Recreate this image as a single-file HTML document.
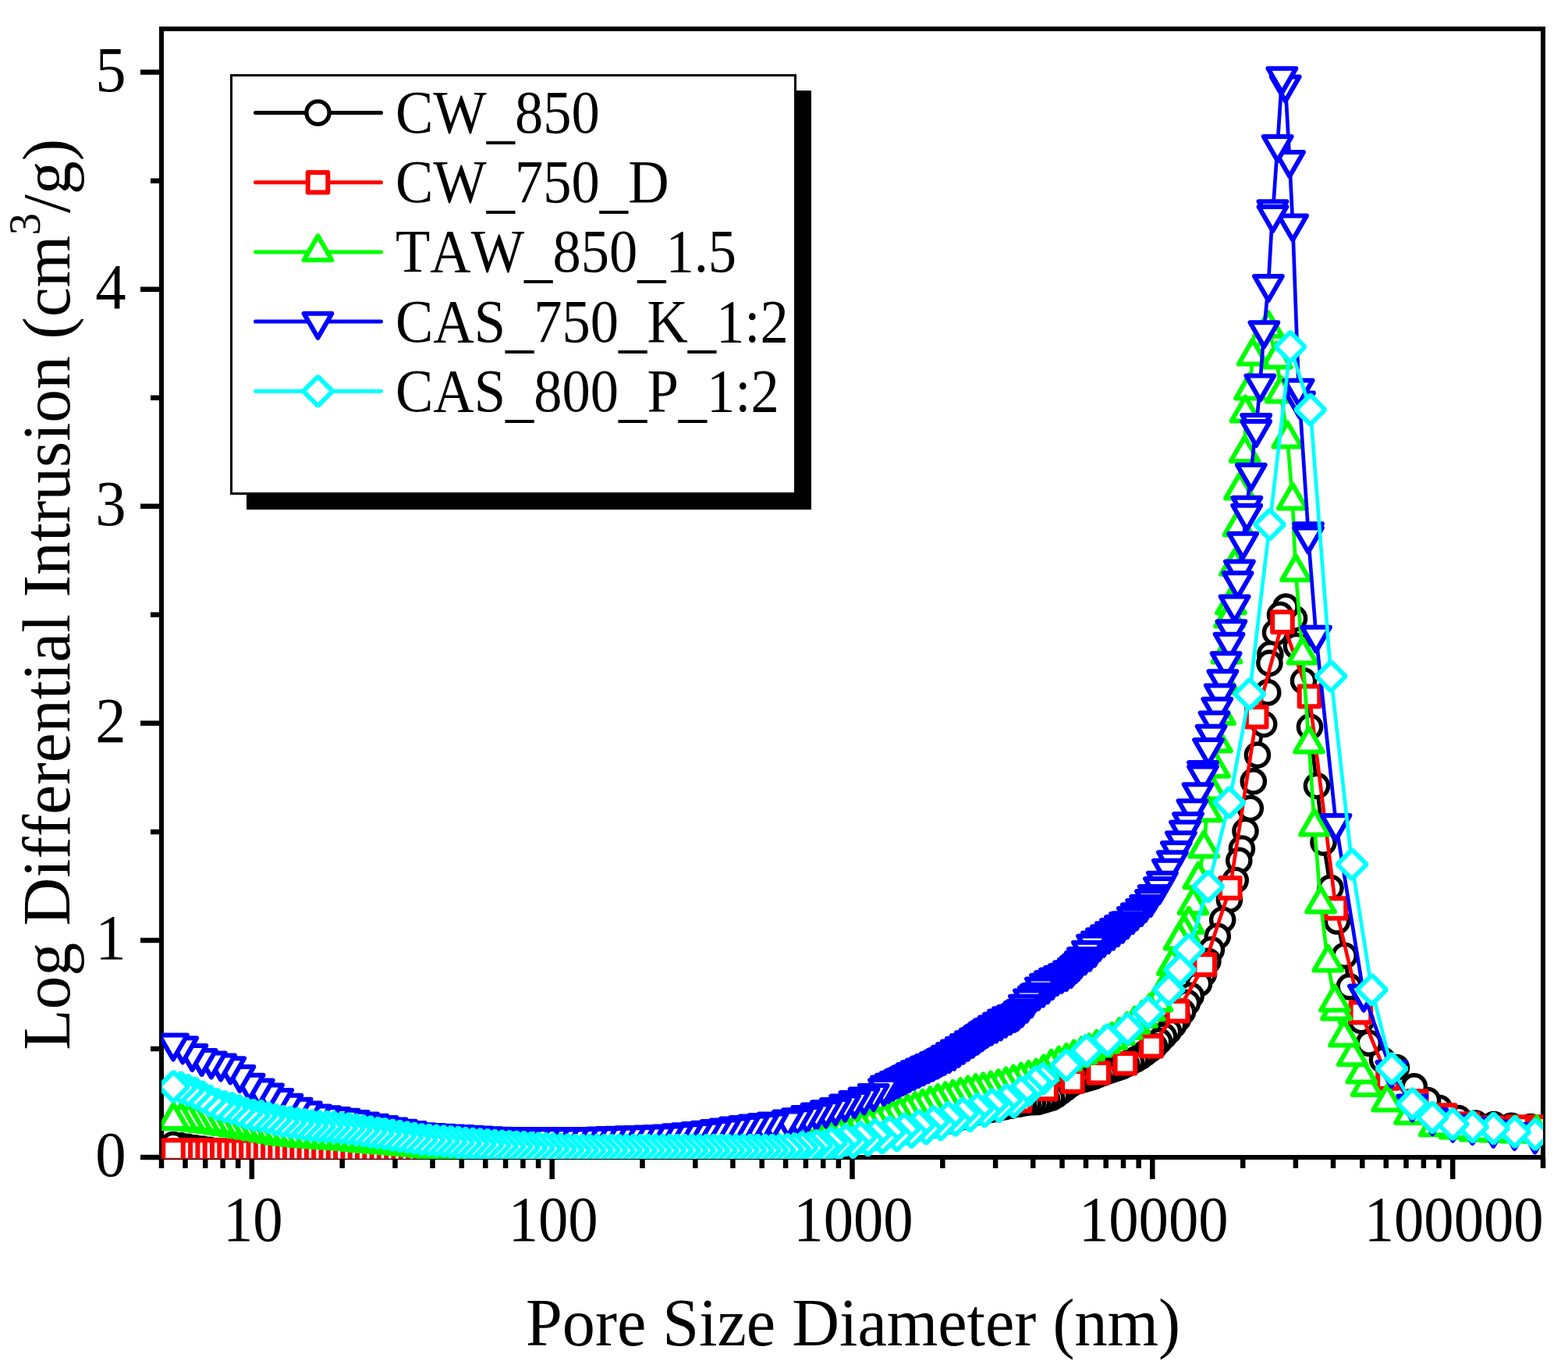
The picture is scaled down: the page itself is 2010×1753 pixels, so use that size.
<!DOCTYPE html><html><head><meta charset="utf-8"><title>Log Differential Intrusion vs Pore Size Diameter</title>
<style>html,body{margin:0;padding:0;background:#fff;}svg{display:block;}text{font-family:"Liberation Serif","Times New Roman",serif;fill:#000;font-kerning:none;}</style></head><body>
<svg xmlns="http://www.w3.org/2000/svg" width="2010" height="1753" viewBox="0 0 2010 1753">
<rect width="2010" height="1753" fill="#fff"/>
<defs><clipPath id="pc"><rect x="207" y="37" width="1771" height="1448"/></clipPath></defs>
<path d="M180 1483H207M180 1204.9H207M180 926.8H207M180 648.8H207M180 370.7H207M180 92.6H207M193 1344H207M193 1065.9H207M193 787.8H207M193 509.7H207M193 231.7H207M207 1483V1497M237.5 1483V1497M263.2 1483V1497M285.6 1483V1497M305.2 1483V1497M322.8 1483V1511M438.7 1483V1497M506.5 1483V1497M554.5 1483V1497M591.8 1483V1497M622.3 1483V1497M648.1 1483V1497M670.4 1483V1497M690.1 1483V1497M707.7 1483V1511M823.5 1483V1497M891.3 1483V1497M939.4 1483V1497M976.7 1483V1497M1007.1 1483V1497M1032.9 1483V1497M1055.2 1483V1497M1074.9 1483V1497M1092.5 1483V1511M1208.3 1483V1497M1276.1 1483V1497M1324.2 1483V1497M1361.5 1483V1497M1392 1483V1497M1417.7 1483V1497M1440 1483V1497M1459.7 1483V1497M1477.3 1483V1511M1593.2 1483V1497M1660.9 1483V1497M1709 1483V1497M1746.3 1483V1497M1776.8 1483V1497M1802.5 1483V1497M1824.9 1483V1497M1844.5 1483V1497M1862.2 1483V1511M1978 1483V1497" stroke="#000" stroke-width="6.5" fill="none"/>
<rect x="207" y="37" width="1771" height="1446" fill="none" stroke="#000" stroke-width="6"/>
<g clip-path="url(#pc)">
<path d="M222 1467 231.3 1468.4 240.6 1469.8 249.9 1471.2 259.2 1472.6 268.5 1473.8 277.8 1475 287.1 1476.3 296.4 1477.5 305.7 1478.5 315 1479.2 324.3 1479.9 333.6 1480.7 342.9 1481.4 352.2 1482.2 361.5 1482.9 370.8 1483.7 380.1 1484.4 389.4 1485.2 398.7 1485.9 408 1486.2 417.3 1486.5 426.6 1486.8 435.9 1487.1 445.2 1487.4 454.5 1487.6 463.8 1487.9 473.1 1488.2 482.4 1488.5 491.7 1488.8 501 1489 510.3 1489.3 519.6 1489.6 528.9 1489.9 538.2 1490.1 547.5 1490.4 556.8 1490.7 566.1 1491 575.4 1491.3 584.7 1491.5 594 1491.8 603.3 1492 612.6 1492 621.9 1492 631.2 1492 640.5 1492 649.8 1492 659.1 1492 668.4 1492 677.7 1492 687 1492 696.3 1492 705.6 1492 714.9 1492 724.2 1492 733.5 1492 742.8 1492 752.1 1492 761.4 1492 770.7 1492 780 1492 789.3 1492 798.6 1492 807.9 1492 817.2 1492 826.5 1492 835.8 1492 845.1 1492 854.4 1492 863.7 1492 873 1492 882.3 1492 891.6 1492 900.9 1492 910.2 1492 919.5 1492 928.8 1492 938.1 1492 947.4 1492 956.7 1489.9 966 1486.9 975.3 1483.9 984.6 1480.9 993.9 1478 1008 1474.8 1016 1473.6 1024 1472.4 1032 1471.2 1040 1470 1048 1468.8 1056 1467.6 1064 1466.4 1072 1465.2 1080 1464 1088 1462.8 1096 1461.6 1104 1460.2 1112 1458.6 1120 1457 1128 1455.4 1136 1453.8 1144 1452.2 1152 1450.6 1160 1449 1168 1447.4 1176 1445.8 1184 1444.2 1192 1442.6 1200 1441 1208 1438.6 1216 1436.2 1224 1433.8 1232 1431.4 1240 1429 1248 1426.6 1256 1424.8 1264 1423.2 1272 1421.6 1280 1420 1288 1418.3 1296 1416.7 1306 1414.7 1312 1413.5 1318 1412.6 1324 1412.3 1330 1412 1336 1410.2 1342 1408.5 1348 1406.7 1354 1403.3 1360 1398.8 1366 1394.2 1372 1389.7 1378 1386.3 1384 1384.6 1390 1383 1396 1381.3 1402 1379.4 1408 1377.1 1414 1374.8 1420 1372.5 1426 1370.5 1432 1368.4 1438 1366.4 1444 1363.6 1450 1360.6 1456 1357.5 1462 1353.9 1468 1349.5 1474 1345.1 1480 1340.7 1486 1334.3 1492 1327.9 1498 1321.5 1504 1313.9 1510 1305.7 1516 1296.5 1522 1285 1526.7 1276 1537 1260.4 1543 1248 1548.4 1231.8 1552.9 1217 1560.8 1199.8 1567.2 1178.7 1575.9 1152.9 1583.7 1128 1588.3 1102.8 1591.9 1087.5 1596.5 1064.9 1602.8 1035.8 1606.8 1001.3 1611.9 967.6 1620.2 928 1625.2 887.4 1627.4 849.8 1628.3 838.5 1635 810.6 1641 788 1648.4 777.6 1659 792.6 1662 828 1671 872.5 1679 931.5 1688 1007 1696.5 1079.6 1705.5 1137.8 1714 1180.4 1723.6 1224.7 1729.8 1264.4 1745 1308 1754.8 1336.7 1772 1358 1790 1368 1812.8 1392.3 1830 1410 1845 1420 1869.5 1433 1891.3 1439.5 1915 1441 1937.3 1442.8 1962 1444 1985 1445" fill="none" stroke="#000000" stroke-width="4.7" stroke-linejoin="round"/>
<g fill="#fff" stroke="#000000" stroke-width="5.4">
<circle cx="1985" cy="1445" r="14.6"/><circle cx="1962" cy="1444" r="14.6"/><circle cx="1937.3" cy="1442.8" r="14.6"/><circle cx="1915" cy="1441" r="14.6"/><circle cx="1891.3" cy="1439.5" r="14.6"/><circle cx="1869.5" cy="1433" r="14.6"/><circle cx="1845" cy="1420" r="14.6"/><circle cx="1830" cy="1410" r="14.6"/><circle cx="1812.8" cy="1392.3" r="14.6"/><circle cx="1790" cy="1368" r="14.6"/><circle cx="1772" cy="1358" r="14.6"/><circle cx="1754.8" cy="1336.7" r="14.6"/><circle cx="1745" cy="1308" r="14.6"/><circle cx="1729.8" cy="1264.4" r="14.6"/><circle cx="1723.6" cy="1224.7" r="14.6"/><circle cx="1714" cy="1180.4" r="14.6"/><circle cx="1705.5" cy="1137.8" r="14.6"/><circle cx="1696.5" cy="1079.6" r="14.6"/><circle cx="1688" cy="1007" r="14.6"/><circle cx="1679" cy="931.5" r="14.6"/><circle cx="1671" cy="872.5" r="14.6"/><circle cx="1662" cy="828" r="14.6"/><circle cx="1659" cy="792.6" r="14.6"/><circle cx="1648.4" cy="777.6" r="14.6"/><circle cx="1641" cy="788" r="14.6"/><circle cx="1635" cy="810.6" r="14.6"/><circle cx="1628.3" cy="838.5" r="14.6"/><circle cx="1627.4" cy="849.8" r="14.6"/><circle cx="1625.2" cy="887.4" r="14.6"/><circle cx="1620.2" cy="928" r="14.6"/><circle cx="1611.9" cy="967.6" r="14.6"/><circle cx="1606.8" cy="1001.3" r="14.6"/><circle cx="1602.8" cy="1035.8" r="14.6"/><circle cx="1596.5" cy="1064.9" r="14.6"/><circle cx="1591.9" cy="1087.5" r="14.6"/><circle cx="1588.3" cy="1102.8" r="14.6"/><circle cx="1583.7" cy="1128" r="14.6"/><circle cx="1575.9" cy="1152.9" r="14.6"/><circle cx="1567.2" cy="1178.7" r="14.6"/><circle cx="1560.8" cy="1199.8" r="14.6"/><circle cx="1552.9" cy="1217" r="14.6"/><circle cx="1548.4" cy="1231.8" r="14.6"/><circle cx="1543" cy="1248" r="14.6"/><circle cx="1537" cy="1260.4" r="14.6"/><circle cx="1526.7" cy="1276" r="14.6"/><circle cx="1522" cy="1285" r="14.6"/><circle cx="1516" cy="1296.5" r="14.6"/><circle cx="1510" cy="1305.7" r="14.6"/><circle cx="1504" cy="1313.9" r="14.6"/><circle cx="1498" cy="1321.5" r="14.6"/><circle cx="1492" cy="1327.9" r="14.6"/><circle cx="1486" cy="1334.3" r="14.6"/><circle cx="1480" cy="1340.7" r="14.6"/><circle cx="1474" cy="1345.1" r="14.6"/><circle cx="1468" cy="1349.5" r="14.6"/><circle cx="1462" cy="1353.9" r="14.6"/><circle cx="1456" cy="1357.5" r="14.6"/><circle cx="1450" cy="1360.6" r="14.6"/><circle cx="1444" cy="1363.6" r="14.6"/><circle cx="1438" cy="1366.4" r="14.6"/><circle cx="1432" cy="1368.4" r="14.6"/><circle cx="1426" cy="1370.5" r="14.6"/><circle cx="1420" cy="1372.5" r="14.6"/><circle cx="1414" cy="1374.8" r="14.6"/><circle cx="1408" cy="1377.1" r="14.6"/><circle cx="1402" cy="1379.4" r="14.6"/><circle cx="1396" cy="1381.3" r="14.6"/><circle cx="1390" cy="1383" r="14.6"/><circle cx="1384" cy="1384.6" r="14.6"/><circle cx="1378" cy="1386.3" r="14.6"/><circle cx="1372" cy="1389.7" r="14.6"/><circle cx="1366" cy="1394.2" r="14.6"/><circle cx="1360" cy="1398.8" r="14.6"/><circle cx="1354" cy="1403.3" r="14.6"/><circle cx="1348" cy="1406.7" r="14.6"/><circle cx="1342" cy="1408.5" r="14.6"/><circle cx="1336" cy="1410.2" r="14.6"/><circle cx="1330" cy="1412" r="14.6"/><circle cx="1324" cy="1412.3" r="14.6"/><circle cx="1318" cy="1412.6" r="14.6"/><circle cx="1312" cy="1413.5" r="14.6"/><circle cx="1306" cy="1414.7" r="14.6"/><circle cx="1296" cy="1416.7" r="14.6"/><circle cx="1288" cy="1418.3" r="14.6"/><circle cx="1280" cy="1420" r="14.6"/><circle cx="1272" cy="1421.6" r="14.6"/><circle cx="1264" cy="1423.2" r="14.6"/><circle cx="1256" cy="1424.8" r="14.6"/><circle cx="1248" cy="1426.6" r="14.6"/><circle cx="1240" cy="1429" r="14.6"/><circle cx="1232" cy="1431.4" r="14.6"/><circle cx="1224" cy="1433.8" r="14.6"/><circle cx="1216" cy="1436.2" r="14.6"/><circle cx="1208" cy="1438.6" r="14.6"/><circle cx="1200" cy="1441" r="14.6"/><circle cx="1192" cy="1442.6" r="14.6"/><circle cx="1184" cy="1444.2" r="14.6"/><circle cx="1176" cy="1445.8" r="14.6"/><circle cx="1168" cy="1447.4" r="14.6"/><circle cx="1160" cy="1449" r="14.6"/><circle cx="1152" cy="1450.6" r="14.6"/><circle cx="1144" cy="1452.2" r="14.6"/><circle cx="1136" cy="1453.8" r="14.6"/><circle cx="1128" cy="1455.4" r="14.6"/><circle cx="1120" cy="1457" r="14.6"/><circle cx="1112" cy="1458.6" r="14.6"/><circle cx="1104" cy="1460.2" r="14.6"/><circle cx="1096" cy="1461.6" r="14.6"/><circle cx="1088" cy="1462.8" r="14.6"/><circle cx="1080" cy="1464" r="14.6"/><circle cx="1072" cy="1465.2" r="14.6"/><circle cx="1064" cy="1466.4" r="14.6"/><circle cx="1056" cy="1467.6" r="14.6"/><circle cx="1048" cy="1468.8" r="14.6"/><circle cx="1040" cy="1470" r="14.6"/><circle cx="1032" cy="1471.2" r="14.6"/><circle cx="1024" cy="1472.4" r="14.6"/><circle cx="1016" cy="1473.6" r="14.6"/><circle cx="1008" cy="1474.8" r="14.6"/><circle cx="993.9" cy="1478" r="14.6"/><circle cx="984.6" cy="1480.9" r="14.6"/><circle cx="975.3" cy="1483.9" r="14.6"/><circle cx="966" cy="1486.9" r="14.6"/><circle cx="956.7" cy="1489.9" r="14.6"/><circle cx="947.4" cy="1492" r="14.6"/><circle cx="938.1" cy="1492" r="14.6"/><circle cx="928.8" cy="1492" r="14.6"/><circle cx="919.5" cy="1492" r="14.6"/><circle cx="910.2" cy="1492" r="14.6"/><circle cx="900.9" cy="1492" r="14.6"/><circle cx="891.6" cy="1492" r="14.6"/><circle cx="882.3" cy="1492" r="14.6"/><circle cx="873" cy="1492" r="14.6"/><circle cx="863.7" cy="1492" r="14.6"/><circle cx="854.4" cy="1492" r="14.6"/><circle cx="845.1" cy="1492" r="14.6"/><circle cx="835.8" cy="1492" r="14.6"/><circle cx="826.5" cy="1492" r="14.6"/><circle cx="817.2" cy="1492" r="14.6"/><circle cx="807.9" cy="1492" r="14.6"/><circle cx="798.6" cy="1492" r="14.6"/><circle cx="789.3" cy="1492" r="14.6"/><circle cx="780" cy="1492" r="14.6"/><circle cx="770.7" cy="1492" r="14.6"/><circle cx="761.4" cy="1492" r="14.6"/><circle cx="752.1" cy="1492" r="14.6"/><circle cx="742.8" cy="1492" r="14.6"/><circle cx="733.5" cy="1492" r="14.6"/><circle cx="724.2" cy="1492" r="14.6"/><circle cx="714.9" cy="1492" r="14.6"/><circle cx="705.6" cy="1492" r="14.6"/><circle cx="696.3" cy="1492" r="14.6"/><circle cx="687" cy="1492" r="14.6"/><circle cx="677.7" cy="1492" r="14.6"/><circle cx="668.4" cy="1492" r="14.6"/><circle cx="659.1" cy="1492" r="14.6"/><circle cx="649.8" cy="1492" r="14.6"/><circle cx="640.5" cy="1492" r="14.6"/><circle cx="631.2" cy="1492" r="14.6"/><circle cx="621.9" cy="1492" r="14.6"/><circle cx="612.6" cy="1492" r="14.6"/><circle cx="603.3" cy="1492" r="14.6"/><circle cx="594" cy="1491.8" r="14.6"/><circle cx="584.7" cy="1491.5" r="14.6"/><circle cx="575.4" cy="1491.3" r="14.6"/><circle cx="566.1" cy="1491" r="14.6"/><circle cx="556.8" cy="1490.7" r="14.6"/><circle cx="547.5" cy="1490.4" r="14.6"/><circle cx="538.2" cy="1490.1" r="14.6"/><circle cx="528.9" cy="1489.9" r="14.6"/><circle cx="519.6" cy="1489.6" r="14.6"/><circle cx="510.3" cy="1489.3" r="14.6"/><circle cx="501" cy="1489" r="14.6"/><circle cx="491.7" cy="1488.8" r="14.6"/><circle cx="482.4" cy="1488.5" r="14.6"/><circle cx="473.1" cy="1488.2" r="14.6"/><circle cx="463.8" cy="1487.9" r="14.6"/><circle cx="454.5" cy="1487.6" r="14.6"/><circle cx="445.2" cy="1487.4" r="14.6"/><circle cx="435.9" cy="1487.1" r="14.6"/><circle cx="426.6" cy="1486.8" r="14.6"/><circle cx="417.3" cy="1486.5" r="14.6"/><circle cx="408" cy="1486.2" r="14.6"/><circle cx="398.7" cy="1485.9" r="14.6"/><circle cx="389.4" cy="1485.2" r="14.6"/><circle cx="380.1" cy="1484.4" r="14.6"/><circle cx="370.8" cy="1483.7" r="14.6"/><circle cx="361.5" cy="1482.9" r="14.6"/><circle cx="352.2" cy="1482.2" r="14.6"/><circle cx="342.9" cy="1481.4" r="14.6"/><circle cx="333.6" cy="1480.7" r="14.6"/><circle cx="324.3" cy="1479.9" r="14.6"/><circle cx="315" cy="1479.2" r="14.6"/><circle cx="305.7" cy="1478.5" r="14.6"/><circle cx="296.4" cy="1477.5" r="14.6"/><circle cx="287.1" cy="1476.3" r="14.6"/><circle cx="277.8" cy="1475" r="14.6"/><circle cx="268.5" cy="1473.8" r="14.6"/><circle cx="259.2" cy="1472.6" r="14.6"/><circle cx="249.9" cy="1471.2" r="14.6"/><circle cx="240.6" cy="1469.8" r="14.6"/><circle cx="231.3" cy="1468.4" r="14.6"/><circle cx="222" cy="1467" r="14.6"/>
</g>
<path d="M222 1474 231.3 1474 240.6 1474.1 249.9 1474.1 259.2 1474.1 268.5 1474.1 277.8 1474.2 287.1 1474.2 296.4 1474.2 305.7 1474.3 315 1474.3 324.3 1474.3 333.6 1474.4 342.9 1474.4 352.2 1474.4 361.5 1474.4 370.8 1474.5 380.1 1474.5 389.4 1474.5 398.7 1474.6 408 1474.6 417.3 1474.6 426.6 1474.6 435.9 1474.7 445.2 1474.7 454.5 1474.7 463.8 1474.8 473.1 1474.8 482.4 1474.8 491.7 1474.8 501 1474.9 510.3 1474.9 519.6 1474.9 528.9 1475 538.2 1475 547.5 1475.1 556.8 1475.3 566.1 1475.5 575.4 1475.7 584.7 1475.8 594 1476 603.3 1476.2 612.6 1476.4 621.9 1476.5 631.2 1476.7 640.5 1476.9 649.8 1477.1 659.1 1477.2 668.4 1477.4 677.7 1477.6 687 1477.8 696.3 1477.9 705.6 1478 714.9 1478 724.2 1478 733.5 1478 742.8 1478 752.1 1478 761.4 1478 770.7 1478 780 1478 789.3 1478 798.6 1478 807.9 1478 817.2 1478 826.5 1478 835.8 1478 845.1 1478 854.4 1478 863.7 1478 873 1478 882.3 1478 891.6 1478 900.9 1478 910.2 1478 919.5 1478 928.8 1478 938.1 1478 947.4 1478 956.7 1477.5 966 1476.7 975.3 1476 984.6 1475.2 993.9 1474.5 1005.5 1473.1 1039.2 1467.7 1072.9 1462.3 1106.6 1456.6 1140.3 1449.5 1174 1442.5 1207.7 1434.9 1241.4 1425.7 1275.1 1417.8 1307.5 1410.8 1341.1 1395.4 1374.9 1385.9 1408.2 1374.8 1442.4 1362.8 1476 1340.6 1509.6 1295.7 1544.2 1236.1 1576.8 1137.9 1610.7 918.8 1644 797.1 1678.5 892.4 1712.4 1164 1744.4 1297.4 1779 1382 1815.8 1411 1852.5 1429 1882 1440 1913 1445 1945 1444 1975 1444" fill="none" stroke="#ff0000" stroke-width="4.7" stroke-linejoin="round"/>
<g fill="#fff" stroke="#ff0000" stroke-width="6" stroke-linejoin="round">
<rect x="1962.2" y="1431.2" width="25.6" height="25.6"/><rect x="1932.2" y="1431.2" width="25.6" height="25.6"/><rect x="1900.2" y="1432.2" width="25.6" height="25.6"/><rect x="1869.2" y="1427.2" width="25.6" height="25.6"/><rect x="1839.7" y="1416.2" width="25.6" height="25.6"/><rect x="1803" y="1398.2" width="25.6" height="25.6"/><rect x="1766.2" y="1369.2" width="25.6" height="25.6"/><rect x="1731.6" y="1284.6" width="25.6" height="25.6"/><rect x="1699.6" y="1151.2" width="25.6" height="25.6"/><rect x="1665.7" y="879.6" width="25.6" height="25.6"/><rect x="1631.2" y="784.3" width="25.6" height="25.6"/><rect x="1597.9" y="906" width="25.6" height="25.6"/><rect x="1564" y="1125.1" width="25.6" height="25.6"/><rect x="1531.4" y="1223.3" width="25.6" height="25.6"/><rect x="1496.8" y="1282.9" width="25.6" height="25.6"/><rect x="1463.2" y="1327.8" width="25.6" height="25.6"/><rect x="1429.6" y="1350" width="25.6" height="25.6"/><rect x="1395.4" y="1362" width="25.6" height="25.6"/><rect x="1362.1" y="1373.1" width="25.6" height="25.6"/><rect x="1328.3" y="1382.6" width="25.6" height="25.6"/><rect x="1294.7" y="1398" width="25.6" height="25.6"/><rect x="1262.3" y="1405" width="25.6" height="25.6"/><rect x="1228.6" y="1412.9" width="25.6" height="25.6"/><rect x="1194.9" y="1422.1" width="25.6" height="25.6"/><rect x="1161.2" y="1429.7" width="25.6" height="25.6"/><rect x="1127.5" y="1436.7" width="25.6" height="25.6"/><rect x="1093.8" y="1443.8" width="25.6" height="25.6"/><rect x="1060.1" y="1449.5" width="25.6" height="25.6"/><rect x="1026.4" y="1454.9" width="25.6" height="25.6"/><rect x="992.7" y="1460.3" width="25.6" height="25.6"/><rect x="981.1" y="1461.7" width="25.6" height="25.6"/><rect x="971.8" y="1462.4" width="25.6" height="25.6"/><rect x="962.5" y="1463.2" width="25.6" height="25.6"/><rect x="953.2" y="1463.9" width="25.6" height="25.6"/><rect x="943.9" y="1464.7" width="25.6" height="25.6"/><rect x="934.6" y="1465.2" width="25.6" height="25.6"/><rect x="925.3" y="1465.2" width="25.6" height="25.6"/><rect x="916" y="1465.2" width="25.6" height="25.6"/><rect x="906.7" y="1465.2" width="25.6" height="25.6"/><rect x="897.4" y="1465.2" width="25.6" height="25.6"/><rect x="888.1" y="1465.2" width="25.6" height="25.6"/><rect x="878.8" y="1465.2" width="25.6" height="25.6"/><rect x="869.5" y="1465.2" width="25.6" height="25.6"/><rect x="860.2" y="1465.2" width="25.6" height="25.6"/><rect x="850.9" y="1465.2" width="25.6" height="25.6"/><rect x="841.6" y="1465.2" width="25.6" height="25.6"/><rect x="832.3" y="1465.2" width="25.6" height="25.6"/><rect x="823" y="1465.2" width="25.6" height="25.6"/><rect x="813.7" y="1465.2" width="25.6" height="25.6"/><rect x="804.4" y="1465.2" width="25.6" height="25.6"/><rect x="795.1" y="1465.2" width="25.6" height="25.6"/><rect x="785.8" y="1465.2" width="25.6" height="25.6"/><rect x="776.5" y="1465.2" width="25.6" height="25.6"/><rect x="767.2" y="1465.2" width="25.6" height="25.6"/><rect x="757.9" y="1465.2" width="25.6" height="25.6"/><rect x="748.6" y="1465.2" width="25.6" height="25.6"/><rect x="739.3" y="1465.2" width="25.6" height="25.6"/><rect x="730" y="1465.2" width="25.6" height="25.6"/><rect x="720.7" y="1465.2" width="25.6" height="25.6"/><rect x="711.4" y="1465.2" width="25.6" height="25.6"/><rect x="702.1" y="1465.2" width="25.6" height="25.6"/><rect x="692.8" y="1465.2" width="25.6" height="25.6"/><rect x="683.5" y="1465.1" width="25.6" height="25.6"/><rect x="674.2" y="1465" width="25.6" height="25.6"/><rect x="664.9" y="1464.8" width="25.6" height="25.6"/><rect x="655.6" y="1464.6" width="25.6" height="25.6"/><rect x="646.3" y="1464.4" width="25.6" height="25.6"/><rect x="637" y="1464.3" width="25.6" height="25.6"/><rect x="627.7" y="1464.1" width="25.6" height="25.6"/><rect x="618.4" y="1463.9" width="25.6" height="25.6"/><rect x="609.1" y="1463.7" width="25.6" height="25.6"/><rect x="599.8" y="1463.6" width="25.6" height="25.6"/><rect x="590.5" y="1463.4" width="25.6" height="25.6"/><rect x="581.2" y="1463.2" width="25.6" height="25.6"/><rect x="571.9" y="1463" width="25.6" height="25.6"/><rect x="562.6" y="1462.9" width="25.6" height="25.6"/><rect x="553.3" y="1462.7" width="25.6" height="25.6"/><rect x="544" y="1462.5" width="25.6" height="25.6"/><rect x="534.7" y="1462.3" width="25.6" height="25.6"/><rect x="525.4" y="1462.2" width="25.6" height="25.6"/><rect x="516.1" y="1462.2" width="25.6" height="25.6"/><rect x="506.8" y="1462.1" width="25.6" height="25.6"/><rect x="497.5" y="1462.1" width="25.6" height="25.6"/><rect x="488.2" y="1462.1" width="25.6" height="25.6"/><rect x="478.9" y="1462" width="25.6" height="25.6"/><rect x="469.6" y="1462" width="25.6" height="25.6"/><rect x="460.3" y="1462" width="25.6" height="25.6"/><rect x="451" y="1462" width="25.6" height="25.6"/><rect x="441.7" y="1461.9" width="25.6" height="25.6"/><rect x="432.4" y="1461.9" width="25.6" height="25.6"/><rect x="423.1" y="1461.9" width="25.6" height="25.6"/><rect x="413.8" y="1461.8" width="25.6" height="25.6"/><rect x="404.5" y="1461.8" width="25.6" height="25.6"/><rect x="395.2" y="1461.8" width="25.6" height="25.6"/><rect x="385.9" y="1461.8" width="25.6" height="25.6"/><rect x="376.6" y="1461.7" width="25.6" height="25.6"/><rect x="367.3" y="1461.7" width="25.6" height="25.6"/><rect x="358" y="1461.7" width="25.6" height="25.6"/><rect x="348.7" y="1461.6" width="25.6" height="25.6"/><rect x="339.4" y="1461.6" width="25.6" height="25.6"/><rect x="330.1" y="1461.6" width="25.6" height="25.6"/><rect x="320.8" y="1461.6" width="25.6" height="25.6"/><rect x="311.5" y="1461.5" width="25.6" height="25.6"/><rect x="302.2" y="1461.5" width="25.6" height="25.6"/><rect x="292.9" y="1461.5" width="25.6" height="25.6"/><rect x="283.6" y="1461.4" width="25.6" height="25.6"/><rect x="274.3" y="1461.4" width="25.6" height="25.6"/><rect x="265" y="1461.4" width="25.6" height="25.6"/><rect x="255.7" y="1461.3" width="25.6" height="25.6"/><rect x="246.4" y="1461.3" width="25.6" height="25.6"/><rect x="237.1" y="1461.3" width="25.6" height="25.6"/><rect x="227.8" y="1461.3" width="25.6" height="25.6"/><rect x="218.5" y="1461.2" width="25.6" height="25.6"/><rect x="209.2" y="1461.2" width="25.6" height="25.6"/>
</g>
<path d="M222.4 1435.7 232.1 1436 241.8 1436.2 251.5 1437.4 261.2 1438.6 270.9 1439.8 280.6 1441.3 290.3 1442.7 300 1444.2 309.7 1445.7 319.4 1447.1 329.1 1448.9 338.8 1450.7 348.5 1452.5 358.2 1454.4 367.9 1455.5 377.6 1456.4 387.3 1457.4 397 1458.3 406.7 1459 416.4 1459.7 426.1 1460.3 435.8 1460.9 445.5 1461.7 455.2 1462.7 464.9 1463.7 474.6 1464.6 484.3 1465.4 494 1466.2 503.7 1467 513.4 1467.8 523.1 1468.6 532.8 1469.5 542.5 1470.4 552.2 1471.4 561.9 1472.3 571.6 1472.9 581.3 1473.5 591 1474.1 600.7 1474.7 610.4 1475.4 620.1 1476 629.8 1476.6 639.5 1477.2 649.2 1477.7 658.9 1478.1 668.6 1478.6 678.3 1479.1 688 1479.6 697.7 1480.1 707.4 1480.6 717.1 1481.1 726.8 1481.5 736.5 1482 746.2 1482.2 755.9 1482.3 765.6 1482.4 775.3 1482.4 785 1482.5 794.7 1482.5 804.4 1482.6 814.1 1482.7 823.8 1482.7 833.5 1482.8 843.2 1482.8 852.9 1482.9 862.6 1483 872.3 1483 882 1483.1 891.7 1483.1 901.4 1483.1 911.1 1482.3 920.8 1481.5 930.5 1480.8 940.2 1480 949.9 1479.2 959.6 1478.4 969.3 1477.7 979 1476.9 988.7 1476.1 998.4 1475.3 1008.1 1474 1017.8 1472.5 1027.5 1471 1037.2 1468.3 1046.9 1464.1 1056.6 1460.9 1066.3 1458.1 1076 1455.4 1085.7 1452.7 1095.4 1450 1105.1 1446.8 1114.8 1443.1 1124.5 1439.4 1134.2 1435.7 1143.9 1432 1153.6 1428.4 1163.3 1425 1173 1421.6 1182.7 1418.3 1192.4 1414.9 1202.1 1411.6 1211.8 1409 1221.5 1406.4 1231.2 1403.8 1240.9 1401.2 1250.6 1398.6 1260.3 1397 1270 1395.3 1279.7 1393 1289.4 1390.1 1299.1 1387.3 1308.8 1384.4 1318.5 1381.6 1328.2 1379.3 1337.9 1374 1347.6 1367.4 1357.3 1363.4 1367 1359.7 1376.7 1355.2 1386.4 1351.1 1396.1 1346.9 1405.8 1342.3 1415.5 1337.4 1425.2 1332.6 1434.9 1326.6 1444.6 1319.5 1454.3 1312.4 1464 1304.6 1473.7 1295.9 1483.4 1284.1 1493.1 1266.6 1502.8 1237.5 1511.6 1205.2 1518 1195.2 1524 1184.5 1529.5 1159.9 1536.3 1127 1543.2 1087.2 1547.1 1041 1552 1013.2 1557.1 984.4 1559.9 952 1564 916.8 1568.9 877.2 1572.5 838.2 1576 792.2 1578 775.2 1582.9 725.7 1587.4 675.2 1589 628.2 1595.6 580.7 1596.5 529.2 1602 500.2 1605.7 456.2 1625.8 420.8 1636.7 460.2 1642 504.2 1650.4 562.2 1656.8 641.2 1661 732.9 1669.7 839.2 1678 953.2 1685 1059.2 1693 1158.2 1702.3 1233.2 1711 1284.2 1713 1295.2 1723 1329.2 1733.7 1354 1745.3 1376.2 1751.7 1392.7 1778.3 1412.2 1807 1428.7 1838.8 1444 1865 1447.2 1891 1450.2 1916.5 1451.2 1943 1452.2 1970 1452.2" fill="none" stroke="#00ff00" stroke-width="4.7" stroke-linejoin="round"/>
<g fill="#fff" stroke="#00ff00" stroke-width="6" stroke-linejoin="round">
<path d="M1970 1431.5L1987.9 1462.5L1952.1 1462.5Z"/><path d="M1943 1431.5L1960.9 1462.5L1925.1 1462.5Z"/><path d="M1916.5 1430.5L1934.4 1461.5L1898.6 1461.5Z"/><path d="M1891 1429.5L1908.9 1460.5L1873.1 1460.5Z"/><path d="M1865 1426.5L1882.9 1457.5L1847.1 1457.5Z"/><path d="M1838.8 1423.3L1856.7 1454.3L1820.9 1454.3Z"/><path d="M1807 1408L1824.9 1439L1789.1 1439Z"/><path d="M1778.3 1391.5L1796.2 1422.5L1760.4 1422.5Z"/><path d="M1751.7 1372L1769.6 1403L1733.8 1403Z"/><path d="M1745.3 1355.5L1763.2 1386.5L1727.4 1386.5Z"/><path d="M1733.7 1333.3L1751.6 1364.3L1715.8 1364.3Z"/><path d="M1723 1308.5L1740.9 1339.5L1705.1 1339.5Z"/><path d="M1713 1274.5L1730.9 1305.5L1695.1 1305.5Z"/><path d="M1711 1263.5L1728.9 1294.5L1693.1 1294.5Z"/><path d="M1702.3 1212.5L1720.2 1243.5L1684.4 1243.5Z"/><path d="M1693 1137.5L1710.9 1168.5L1675.1 1168.5Z"/><path d="M1685 1038.5L1702.9 1069.5L1667.1 1069.5Z"/><path d="M1678 932.5L1695.9 963.5L1660.1 963.5Z"/><path d="M1669.7 818.5L1687.6 849.5L1651.8 849.5Z"/><path d="M1661 712.2L1678.9 743.2L1643.1 743.2Z"/><path d="M1656.8 620.5L1674.7 651.5L1638.9 651.5Z"/><path d="M1650.4 541.5L1668.3 572.5L1632.5 572.5Z"/><path d="M1642 483.5L1659.9 514.5L1624.1 514.5Z"/><path d="M1636.7 439.5L1654.6 470.5L1618.8 470.5Z"/><path d="M1625.8 400.1L1643.7 431.1L1607.9 431.1Z"/><path d="M1605.7 435.5L1623.6 466.5L1587.8 466.5Z"/><path d="M1602 479.5L1619.9 510.5L1584.1 510.5Z"/><path d="M1596.5 508.5L1614.4 539.5L1578.6 539.5Z"/><path d="M1595.6 560L1613.5 591L1577.7 591Z"/><path d="M1589 607.5L1606.9 638.5L1571.1 638.5Z"/><path d="M1587.4 654.5L1605.3 685.5L1569.5 685.5Z"/><path d="M1582.9 705L1600.8 736L1565 736Z"/><path d="M1578 754.5L1595.9 785.5L1560.1 785.5Z"/><path d="M1576 771.5L1593.9 802.5L1558.1 802.5Z"/><path d="M1572.5 817.5L1590.4 848.5L1554.6 848.5Z"/><path d="M1568.9 856.5L1586.8 887.5L1551 887.5Z"/><path d="M1564 896.1L1581.9 927.1L1546.1 927.1Z"/><path d="M1559.9 931.3L1577.8 962.3L1542 962.3Z"/><path d="M1557.1 963.7L1575 994.7L1539.2 994.7Z"/><path d="M1552 992.5L1569.9 1023.5L1534.1 1023.5Z"/><path d="M1547.1 1020.3L1565 1051.3L1529.2 1051.3Z"/><path d="M1543.2 1066.5L1561.1 1097.5L1525.3 1097.5Z"/><path d="M1536.3 1106.3L1554.2 1137.3L1518.4 1137.3Z"/><path d="M1529.5 1139.2L1547.4 1170.2L1511.6 1170.2Z"/><path d="M1524 1163.8L1541.9 1194.8L1506.1 1194.8Z"/><path d="M1518 1174.5L1535.9 1205.5L1500.1 1205.5Z"/><path d="M1511.6 1184.5L1529.5 1215.5L1493.7 1215.5Z"/><path d="M1502.8 1216.8L1520.7 1247.8L1484.9 1247.8Z"/><path d="M1493.1 1245.9L1511 1276.9L1475.2 1276.9Z"/><path d="M1483.4 1263.4L1501.3 1294.4L1465.5 1294.4Z"/><path d="M1473.7 1275.2L1491.6 1306.2L1455.8 1306.2Z"/><path d="M1464 1283.9L1481.9 1314.9L1446.1 1314.9Z"/><path d="M1454.3 1291.7L1472.2 1322.7L1436.4 1322.7Z"/><path d="M1444.6 1298.8L1462.5 1329.8L1426.7 1329.8Z"/><path d="M1434.9 1305.9L1452.8 1336.9L1417 1336.9Z"/><path d="M1425.2 1311.9L1443.1 1342.9L1407.3 1342.9Z"/><path d="M1415.5 1316.7L1433.4 1347.7L1397.6 1347.7Z"/><path d="M1405.8 1321.6L1423.7 1352.6L1387.9 1352.6Z"/><path d="M1396.1 1326.2L1414 1357.2L1378.2 1357.2Z"/><path d="M1386.4 1330.4L1404.3 1361.4L1368.5 1361.4Z"/><path d="M1376.7 1334.5L1394.6 1365.5L1358.8 1365.5Z"/><path d="M1367 1339L1384.9 1370L1349.1 1370Z"/><path d="M1357.3 1342.7L1375.2 1373.7L1339.4 1373.7Z"/><path d="M1347.6 1346.7L1365.5 1377.7L1329.7 1377.7Z"/><path d="M1337.9 1353.3L1355.8 1384.3L1320 1384.3Z"/><path d="M1328.2 1358.6L1346.1 1389.6L1310.3 1389.6Z"/><path d="M1318.5 1360.9L1336.4 1391.9L1300.6 1391.9Z"/><path d="M1308.8 1363.7L1326.7 1394.7L1290.9 1394.7Z"/><path d="M1299.1 1366.6L1317 1397.6L1281.2 1397.6Z"/><path d="M1289.4 1369.4L1307.3 1400.4L1271.5 1400.4Z"/><path d="M1279.7 1372.3L1297.6 1403.3L1261.8 1403.3Z"/><path d="M1270 1374.6L1287.9 1405.6L1252.1 1405.6Z"/><path d="M1260.3 1376.3L1278.2 1407.3L1242.4 1407.3Z"/><path d="M1250.6 1377.9L1268.5 1408.9L1232.7 1408.9Z"/><path d="M1240.9 1380.5L1258.8 1411.5L1223 1411.5Z"/><path d="M1231.2 1383.1L1249.1 1414.1L1213.3 1414.1Z"/><path d="M1221.5 1385.7L1239.4 1416.7L1203.6 1416.7Z"/><path d="M1211.8 1388.3L1229.7 1419.3L1193.9 1419.3Z"/><path d="M1202.1 1390.9L1220 1421.9L1184.2 1421.9Z"/><path d="M1192.4 1394.2L1210.3 1425.2L1174.5 1425.2Z"/><path d="M1182.7 1397.6L1200.6 1428.6L1164.8 1428.6Z"/><path d="M1173 1400.9L1190.9 1431.9L1155.1 1431.9Z"/><path d="M1163.3 1404.3L1181.2 1435.3L1145.4 1435.3Z"/><path d="M1153.6 1407.7L1171.5 1438.7L1135.7 1438.7Z"/><path d="M1143.9 1411.3L1161.8 1442.3L1126 1442.3Z"/><path d="M1134.2 1415L1152.1 1446L1116.3 1446Z"/><path d="M1124.5 1418.7L1142.4 1449.7L1106.6 1449.7Z"/><path d="M1114.8 1422.4L1132.7 1453.4L1096.9 1453.4Z"/><path d="M1105.1 1426.1L1123 1457.1L1087.2 1457.1Z"/><path d="M1095.4 1429.3L1113.3 1460.3L1077.5 1460.3Z"/><path d="M1085.7 1432L1103.6 1463L1067.8 1463Z"/><path d="M1076 1434.7L1093.9 1465.7L1058.1 1465.7Z"/><path d="M1066.3 1437.4L1084.2 1468.4L1048.4 1468.4Z"/><path d="M1056.6 1440.2L1074.5 1471.2L1038.7 1471.2Z"/><path d="M1046.9 1443.4L1064.8 1474.4L1029 1474.4Z"/><path d="M1037.2 1447.6L1055.1 1478.6L1019.3 1478.6Z"/><path d="M1027.5 1450.3L1045.4 1481.3L1009.6 1481.3Z"/><path d="M1017.8 1451.8L1035.7 1482.8L999.9 1482.8Z"/><path d="M1008.1 1453.3L1026 1484.3L990.2 1484.3Z"/><path d="M998.4 1454.6L1016.3 1485.6L980.5 1485.6Z"/><path d="M988.7 1455.4L1006.6 1486.4L970.8 1486.4Z"/><path d="M979 1456.2L996.9 1487.2L961.1 1487.2Z"/><path d="M969.3 1457L987.2 1488L951.4 1488Z"/><path d="M959.6 1457.7L977.5 1488.7L941.7 1488.7Z"/><path d="M949.9 1458.5L967.8 1489.5L932 1489.5Z"/><path d="M940.2 1459.3L958.1 1490.3L922.3 1490.3Z"/><path d="M930.5 1460.1L948.4 1491.1L912.6 1491.1Z"/><path d="M920.8 1460.8L938.7 1491.8L902.9 1491.8Z"/><path d="M911.1 1461.6L929 1492.6L893.2 1492.6Z"/><path d="M901.4 1462.4L919.3 1493.4L883.5 1493.4Z"/><path d="M891.7 1462.4L909.6 1493.4L873.8 1493.4Z"/><path d="M882 1462.4L899.9 1493.4L864.1 1493.4Z"/><path d="M872.3 1462.3L890.2 1493.3L854.4 1493.3Z"/><path d="M862.6 1462.3L880.5 1493.3L844.7 1493.3Z"/><path d="M852.9 1462.2L870.8 1493.2L835 1493.2Z"/><path d="M843.2 1462.1L861.1 1493.1L825.3 1493.1Z"/><path d="M833.5 1462.1L851.4 1493.1L815.6 1493.1Z"/><path d="M823.8 1462L841.7 1493L805.9 1493Z"/><path d="M814.1 1462L832 1493L796.2 1493Z"/><path d="M804.4 1461.9L822.3 1492.9L786.5 1492.9Z"/><path d="M794.7 1461.8L812.6 1492.8L776.8 1492.8Z"/><path d="M785 1461.8L802.9 1492.8L767.1 1492.8Z"/><path d="M775.3 1461.7L793.2 1492.7L757.4 1492.7Z"/><path d="M765.6 1461.7L783.5 1492.7L747.7 1492.7Z"/><path d="M755.9 1461.6L773.8 1492.6L738 1492.6Z"/><path d="M746.2 1461.5L764.1 1492.5L728.3 1492.5Z"/><path d="M736.5 1461.3L754.4 1492.3L718.6 1492.3Z"/><path d="M726.8 1460.8L744.7 1491.8L708.9 1491.8Z"/><path d="M717.1 1460.4L735 1491.4L699.2 1491.4Z"/><path d="M707.4 1459.9L725.3 1490.9L689.5 1490.9Z"/><path d="M697.7 1459.4L715.6 1490.4L679.8 1490.4Z"/><path d="M688 1458.9L705.9 1489.9L670.1 1489.9Z"/><path d="M678.3 1458.4L696.2 1489.4L660.4 1489.4Z"/><path d="M668.6 1457.9L686.5 1488.9L650.7 1488.9Z"/><path d="M658.9 1457.4L676.8 1488.4L641 1488.4Z"/><path d="M649.2 1457L667.1 1488L631.3 1488Z"/><path d="M639.5 1456.5L657.4 1487.5L621.6 1487.5Z"/><path d="M629.8 1455.9L647.7 1486.9L611.9 1486.9Z"/><path d="M620.1 1455.3L638 1486.3L602.2 1486.3Z"/><path d="M610.4 1454.7L628.3 1485.7L592.5 1485.7Z"/><path d="M600.7 1454L618.6 1485L582.8 1485Z"/><path d="M591 1453.4L608.9 1484.4L573.1 1484.4Z"/><path d="M581.3 1452.8L599.2 1483.8L563.4 1483.8Z"/><path d="M571.6 1452.2L589.5 1483.2L553.7 1483.2Z"/><path d="M561.9 1451.6L579.8 1482.6L544 1482.6Z"/><path d="M552.2 1450.7L570.1 1481.7L534.3 1481.7Z"/><path d="M542.5 1449.7L560.4 1480.7L524.6 1480.7Z"/><path d="M532.8 1448.8L550.7 1479.8L514.9 1479.8Z"/><path d="M523.1 1447.9L541 1478.9L505.2 1478.9Z"/><path d="M513.4 1447.1L531.3 1478.1L495.5 1478.1Z"/><path d="M503.7 1446.3L521.6 1477.3L485.8 1477.3Z"/><path d="M494 1445.5L511.9 1476.5L476.1 1476.5Z"/><path d="M484.3 1444.7L502.2 1475.7L466.4 1475.7Z"/><path d="M474.6 1443.9L492.5 1474.9L456.7 1474.9Z"/><path d="M464.9 1443L482.8 1474L447 1474Z"/><path d="M455.2 1442L473.1 1473L437.3 1473Z"/><path d="M445.5 1441L463.4 1472L427.6 1472Z"/><path d="M435.8 1440.2L453.7 1471.2L417.9 1471.2Z"/><path d="M426.1 1439.6L444 1470.6L408.2 1470.6Z"/><path d="M416.4 1439L434.3 1470L398.5 1470Z"/><path d="M406.7 1438.3L424.6 1469.3L388.8 1469.3Z"/><path d="M397 1437.6L414.9 1468.6L379.1 1468.6Z"/><path d="M387.3 1436.7L405.2 1467.7L369.4 1467.7Z"/><path d="M377.6 1435.7L395.5 1466.7L359.7 1466.7Z"/><path d="M367.9 1434.8L385.8 1465.8L350 1465.8Z"/><path d="M358.2 1433.7L376.1 1464.7L340.3 1464.7Z"/><path d="M348.5 1431.8L366.4 1462.8L330.6 1462.8Z"/><path d="M338.8 1430L356.7 1461L320.9 1461Z"/><path d="M329.1 1428.2L347 1459.2L311.2 1459.2Z"/><path d="M319.4 1426.4L337.3 1457.4L301.5 1457.4Z"/><path d="M309.7 1425L327.6 1456L291.8 1456Z"/><path d="M300 1423.5L317.9 1454.5L282.1 1454.5Z"/><path d="M290.3 1422L308.2 1453L272.4 1453Z"/><path d="M280.6 1420.6L298.5 1451.6L262.7 1451.6Z"/><path d="M270.9 1419.1L288.8 1450.1L253 1450.1Z"/><path d="M261.2 1417.9L279.1 1448.9L243.3 1448.9Z"/><path d="M251.5 1416.7L269.4 1447.7L233.6 1447.7Z"/><path d="M241.8 1415.5L259.7 1446.5L223.9 1446.5Z"/><path d="M232.1 1415.3L250 1446.3L214.2 1446.3Z"/><path d="M222.4 1415L240.3 1446L204.5 1446Z"/>
</g>
<path d="M222 1336.8 234.2 1340.6 246.4 1350.3 258.6 1356.2 270.8 1359.7 283 1362.8 295.2 1366.6 307.4 1377.2 319.6 1388.1 331.8 1394.7 344 1400.8 356.2 1407.4 368.4 1414 380.6 1419 392.8 1423.7 405 1427.8 417.2 1429.5 429.4 1431.3 441.6 1433.1 453.8 1435.4 466 1437.7 478.2 1440.1 490.4 1442.4 502.6 1444.7 514.8 1447 527 1449.3 539.2 1451.6 551.4 1452.4 563.6 1453.1 575.8 1453.8 588 1454.4 600.2 1455.1 612.4 1455.8 624.6 1456.5 636.8 1457.1 649 1457.3 661.2 1457.4 673.4 1457.5 685.6 1457.5 697.8 1457.6 710 1457.6 722.2 1457.7 734.4 1457.8 746.6 1457.6 758.8 1457.2 771 1456.8 783.2 1456.4 795.4 1456 807.6 1455.6 819.8 1455.2 832 1454.8 844.2 1454.5 856.4 1453.7 868.6 1452.6 880.8 1451.5 893 1450.4 905.2 1449.1 917.4 1447.4 929.6 1445.7 941.8 1443.9 954 1442.3 966.2 1440.9 978.4 1439.4 990.6 1437.9 1010 1434.9 1022.2 1432.5 1034.4 1429.2 1046.6 1425.9 1058.8 1422.6 1071 1419.3 1083.2 1414.8 1095.4 1410.3 1107.6 1405.8 1119.8 1401.2 1133 1394.3 1136 1390.7 1139 1391 1142 1388 1145 1387.7 1148 1385.2 1151 1384.5 1154 1382.4 1157 1381.2 1160 1379.6 1163 1377.8 1166 1376.8 1169 1374.4 1172 1374 1175 1371.5 1178 1371.1 1181 1368.7 1184 1368.3 1187 1365.9 1190 1365.5 1193 1363.2 1196 1362.7 1199 1360.4 1202 1359.6 1205 1357.7 1208 1355.8 1211 1354.9 1214 1352.1 1217 1352.1 1220 1348.4 1223 1349 1226 1344.7 1229 1344.9 1232 1341 1235 1340.9 1238 1337.2 1241 1336.9 1244 1333.5 1247 1332.9 1250 1329.8 1253 1328.7 1256 1325.8 1259 1324.4 1262 1321.7 1265 1320 1268 1317.6 1271 1316.8 1274 1313.7 1277 1313.8 1280 1309.8 1283 1310.6 1286 1305.9 1289 1307 1292 1302.6 1295 1303.4 1298 1300.4 1301 1300 1304 1298.2 1307 1295.1 1310 1293.3 1313 1287 1316 1287.9 1319 1279.7 1322 1281.5 1325 1275.9 1328 1273.1 1331 1272 1334 1264.7 1337 1268 1340 1260.1 1343 1263.6 1346 1256.3 1349 1258.4 1352 1252.9 1355 1253.2 1358 1250.1 1361 1250 1364 1247.3 1367 1247.2 1370 1243.6 1373 1243.3 1376 1239.8 1379 1237.2 1382 1234.6 1385 1231.1 1388 1226.3 1391 1226.4 1394 1218 1397 1222 1400 1209.8 1403 1216.6 1406 1205.7 1409 1209.2 1412 1201.6 1415 1203.8 1418 1197.6 1421 1199.3 1424 1193.5 1427 1194.8 1430 1189.4 1433 1190.3 1436 1185.3 1439 1185.8 1442 1181.2 1445 1180.5 1451.9 1174.3 1456.9 1169.6 1463.2 1164.2 1468.2 1159.1 1474.9 1152.3 1478.7 1146.3 1485.9 1136.3 1489.9 1129 1496.9 1113.1 1502.9 1102.6 1507.9 1090.3 1513.9 1077.5 1519 1063.8 1523 1053.3 1528.5 1036.5 1535.6 1015.5 1542 987.3 1542 992.8 1549 958.3 1552.6 941.1 1556.5 923.8 1560.3 906.1 1563.8 888.7 1567.4 870.5 1571.6 847.6 1575.6 823 1578.4 806.6 1582.6 774.7 1586.6 744.5 1588.9 729.9 1593.2 694.1 1598.2 658 1598.4 648.1 1603.8 606.1 1610.2 542.2 1610.2 550.3 1615.3 491.9 1620.4 423.6 1625.9 364.4 1631.5 268.5 1631.5 275.3 1637.7 185.2 1643.4 98 1647.7 108.7 1653.1 205.3 1657.1 286.8 1664.7 497.8 1666 513.8 1677 681.6 1677 686.8 1687 814 1712.5 1055.3 1748 1273.8 1783.4 1371.3 1810.4 1414.7 1836.3 1432.2 1862.3 1440.9 1887.5 1444.3 1914.3 1448 1941.4 1451.3 1967.6 1455.7 1994 1458.8" fill="none" stroke="#0000ff" stroke-width="4.7" stroke-linejoin="round"/>
<g fill="#fff" stroke="#0000ff" stroke-width="6" stroke-linejoin="round">
<path d="M1976.1 1448.5L2011.9 1448.5L1994 1479.5Z"/><path d="M1949.7 1445.4L1985.5 1445.4L1967.6 1476.4Z"/><path d="M1923.5 1441L1959.3 1441L1941.4 1472Z"/><path d="M1896.4 1437.7L1932.2 1437.7L1914.3 1468.7Z"/><path d="M1869.6 1434L1905.4 1434L1887.5 1465Z"/><path d="M1844.4 1430.6L1880.2 1430.6L1862.3 1461.6Z"/><path d="M1818.4 1421.9L1854.2 1421.9L1836.3 1452.9Z"/><path d="M1792.5 1404.4L1828.3 1404.4L1810.4 1435.4Z"/><path d="M1765.5 1361L1801.3 1361L1783.4 1392Z"/><path d="M1730.1 1263.5L1765.9 1263.5L1748 1294.5Z"/><path d="M1694.6 1045L1730.4 1045L1712.5 1076Z"/><path d="M1669.1 803.7L1704.9 803.7L1687 834.7Z"/><path d="M1659.1 671.3L1694.9 671.3L1677 702.3Z"/><path d="M1659.1 676.5L1694.9 676.5L1677 707.5Z"/><path d="M1648.1 503.5L1683.9 503.5L1666 534.5Z"/><path d="M1646.8 487.5L1682.6 487.5L1664.7 518.5Z"/><path d="M1639.2 276.5L1675 276.5L1657.1 307.5Z"/><path d="M1635.2 195L1671 195L1653.1 226Z"/><path d="M1629.8 98.4L1665.6 98.4L1647.7 129.4Z"/><path d="M1625.5 87.7L1661.3 87.7L1643.4 118.7Z"/><path d="M1619.8 174.9L1655.6 174.9L1637.7 205.9Z"/><path d="M1613.6 258.2L1649.4 258.2L1631.5 289.2Z"/><path d="M1613.6 265L1649.4 265L1631.5 296Z"/><path d="M1608 354.1L1643.8 354.1L1625.9 385.1Z"/><path d="M1602.5 413.3L1638.3 413.3L1620.4 444.3Z"/><path d="M1597.4 481.6L1633.2 481.6L1615.3 512.6Z"/><path d="M1592.3 531.9L1628.1 531.9L1610.2 562.9Z"/><path d="M1592.3 540L1628.1 540L1610.2 571Z"/><path d="M1585.9 595.8L1621.7 595.8L1603.8 626.8Z"/><path d="M1580.5 637.8L1616.3 637.8L1598.4 668.8Z"/><path d="M1580.3 647.7L1616.1 647.7L1598.2 678.7Z"/><path d="M1575.3 683.8L1611.1 683.8L1593.2 714.8Z"/><path d="M1571 719.6L1606.8 719.6L1588.9 750.6Z"/><path d="M1568.7 734.2L1604.5 734.2L1586.6 765.2Z"/><path d="M1564.7 764.4L1600.5 764.4L1582.6 795.4Z"/><path d="M1560.5 796.3L1596.3 796.3L1578.4 827.3Z"/><path d="M1557.7 812.7L1593.5 812.7L1575.6 843.7Z"/><path d="M1553.7 837.3L1589.5 837.3L1571.6 868.3Z"/><path d="M1549.5 860.2L1585.3 860.2L1567.4 891.2Z"/><path d="M1545.9 878.4L1581.7 878.4L1563.8 909.4Z"/><path d="M1542.4 895.8L1578.2 895.8L1560.3 926.8Z"/><path d="M1538.6 913.5L1574.4 913.5L1556.5 944.5Z"/><path d="M1534.7 930.8L1570.5 930.8L1552.6 961.8Z"/><path d="M1531.1 948L1566.9 948L1549 979Z"/><path d="M1524.1 977L1559.9 977L1542 1008Z"/><path d="M1524.1 982.5L1559.9 982.5L1542 1013.5Z"/><path d="M1517.7 1005.2L1553.5 1005.2L1535.6 1036.2Z"/><path d="M1510.6 1026.2L1546.4 1026.2L1528.5 1057.2Z"/><path d="M1505.1 1043L1540.9 1043L1523 1074Z"/><path d="M1501.1 1053.5L1536.9 1053.5L1519 1084.5Z"/><path d="M1496 1067.2L1531.8 1067.2L1513.9 1098.2Z"/><path d="M1490 1080L1525.8 1080L1507.9 1111Z"/><path d="M1485 1092.3L1520.8 1092.3L1502.9 1123.3Z"/><path d="M1479 1102.8L1514.8 1102.8L1496.9 1133.8Z"/><path d="M1472 1118.7L1507.8 1118.7L1489.9 1149.7Z"/><path d="M1468 1126L1503.8 1126L1485.9 1157Z"/><path d="M1460.8 1136L1496.6 1136L1478.7 1167Z"/><path d="M1457 1142L1492.8 1142L1474.9 1173Z"/><path d="M1450.3 1148.8L1486.1 1148.8L1468.2 1179.8Z"/><path d="M1445.3 1153.9L1481.1 1153.9L1463.2 1184.9Z"/><path d="M1439 1159.3L1474.8 1159.3L1456.9 1190.3Z"/><path d="M1434 1164L1469.8 1164L1451.9 1195Z"/><path d="M1427.1 1170.2L1462.9 1170.2L1445 1201.2Z"/><path d="M1424.1 1170.9L1459.9 1170.9L1442 1201.9Z"/><path d="M1421.1 1175.5L1456.9 1175.5L1439 1206.5Z"/><path d="M1418.1 1175L1453.9 1175L1436 1206Z"/><path d="M1415.1 1180L1450.9 1180L1433 1211Z"/><path d="M1412.1 1179.1L1447.9 1179.1L1430 1210.1Z"/><path d="M1409.1 1184.5L1444.9 1184.5L1427 1215.5Z"/><path d="M1406.1 1183.2L1441.9 1183.2L1424 1214.2Z"/><path d="M1403.1 1189L1438.9 1189L1421 1220Z"/><path d="M1400.1 1187.3L1435.9 1187.3L1418 1218.3Z"/><path d="M1397.1 1193.5L1432.9 1193.5L1415 1224.5Z"/><path d="M1394.1 1191.3L1429.9 1191.3L1412 1222.3Z"/><path d="M1391.1 1198.9L1426.9 1198.9L1409 1229.9Z"/><path d="M1388.1 1195.4L1423.9 1195.4L1406 1226.4Z"/><path d="M1385.1 1206.3L1420.9 1206.3L1403 1237.3Z"/><path d="M1382.1 1199.5L1417.9 1199.5L1400 1230.5Z"/><path d="M1379.1 1211.7L1414.9 1211.7L1397 1242.7Z"/><path d="M1376.1 1207.7L1411.9 1207.7L1394 1238.7Z"/><path d="M1373.1 1216.1L1408.9 1216.1L1391 1247.1Z"/><path d="M1370.1 1216L1405.9 1216L1388 1247Z"/><path d="M1367.1 1220.8L1402.9 1220.8L1385 1251.8Z"/><path d="M1364.1 1224.3L1399.9 1224.3L1382 1255.3Z"/><path d="M1361.1 1226.9L1396.9 1226.9L1379 1257.9Z"/><path d="M1358.1 1229.5L1393.9 1229.5L1376 1260.5Z"/><path d="M1355.1 1233L1390.9 1233L1373 1264Z"/><path d="M1352.1 1233.3L1387.9 1233.3L1370 1264.3Z"/><path d="M1349.1 1236.9L1384.9 1236.9L1367 1267.9Z"/><path d="M1346.1 1237L1381.9 1237L1364 1268Z"/><path d="M1343.1 1239.7L1378.9 1239.7L1361 1270.7Z"/><path d="M1340.1 1239.8L1375.9 1239.8L1358 1270.8Z"/><path d="M1337.1 1242.9L1372.9 1242.9L1355 1273.9Z"/><path d="M1334.1 1242.6L1369.9 1242.6L1352 1273.6Z"/><path d="M1331.1 1248.1L1366.9 1248.1L1349 1279.1Z"/><path d="M1328.1 1246L1363.9 1246L1346 1277Z"/><path d="M1325.1 1253.3L1360.9 1253.3L1343 1284.3Z"/><path d="M1322.1 1249.8L1357.9 1249.8L1340 1280.8Z"/><path d="M1319.1 1257.7L1354.9 1257.7L1337 1288.7Z"/><path d="M1316.1 1254.4L1351.9 1254.4L1334 1285.4Z"/><path d="M1313.1 1261.7L1348.9 1261.7L1331 1292.7Z"/><path d="M1310.1 1262.8L1345.9 1262.8L1328 1293.8Z"/><path d="M1307.1 1265.6L1342.9 1265.6L1325 1296.6Z"/><path d="M1304.1 1271.2L1339.9 1271.2L1322 1302.2Z"/><path d="M1301.1 1269.4L1336.9 1269.4L1319 1300.4Z"/><path d="M1298.1 1277.6L1333.9 1277.6L1316 1308.6Z"/><path d="M1295.1 1276.7L1330.9 1276.7L1313 1307.7Z"/><path d="M1292.1 1283L1327.9 1283L1310 1314Z"/><path d="M1289.1 1284.8L1324.9 1284.8L1307 1315.8Z"/><path d="M1286.1 1287.9L1321.9 1287.9L1304 1318.9Z"/><path d="M1283.1 1289.7L1318.9 1289.7L1301 1320.7Z"/><path d="M1280.1 1290.1L1315.9 1290.1L1298 1321.1Z"/><path d="M1277.1 1293.1L1312.9 1293.1L1295 1324.1Z"/><path d="M1274.1 1292.3L1309.9 1292.3L1292 1323.3Z"/><path d="M1271.1 1296.7L1306.9 1296.7L1289 1327.7Z"/><path d="M1268.1 1295.6L1303.9 1295.6L1286 1326.6Z"/><path d="M1265.1 1300.3L1300.9 1300.3L1283 1331.3Z"/><path d="M1262.1 1299.5L1297.9 1299.5L1280 1330.5Z"/><path d="M1259.1 1303.5L1294.9 1303.5L1277 1334.5Z"/><path d="M1256.1 1303.4L1291.9 1303.4L1274 1334.4Z"/><path d="M1253.1 1306.5L1288.9 1306.5L1271 1337.5Z"/><path d="M1250.1 1307.3L1285.9 1307.3L1268 1338.3Z"/><path d="M1247.1 1309.7L1282.9 1309.7L1265 1340.7Z"/><path d="M1244.1 1311.4L1279.9 1311.4L1262 1342.4Z"/><path d="M1241.1 1314.1L1276.9 1314.1L1259 1345.1Z"/><path d="M1238.1 1315.5L1273.9 1315.5L1256 1346.5Z"/><path d="M1235.1 1318.4L1270.9 1318.4L1253 1349.4Z"/><path d="M1232.1 1319.5L1267.9 1319.5L1250 1350.5Z"/><path d="M1229.1 1322.6L1264.9 1322.6L1247 1353.6Z"/><path d="M1226.1 1323.2L1261.9 1323.2L1244 1354.2Z"/><path d="M1223.1 1326.6L1258.9 1326.6L1241 1357.6Z"/><path d="M1220.1 1326.9L1255.9 1326.9L1238 1357.9Z"/><path d="M1217.1 1330.6L1252.9 1330.6L1235 1361.6Z"/><path d="M1214.1 1330.7L1249.9 1330.7L1232 1361.7Z"/><path d="M1211.1 1334.6L1246.9 1334.6L1229 1365.6Z"/><path d="M1208.1 1334.4L1243.9 1334.4L1226 1365.4Z"/><path d="M1205.1 1338.7L1240.9 1338.7L1223 1369.7Z"/><path d="M1202.1 1338.1L1237.9 1338.1L1220 1369.1Z"/><path d="M1199.1 1341.8L1234.9 1341.8L1217 1372.8Z"/><path d="M1196.1 1341.8L1231.9 1341.8L1214 1372.8Z"/><path d="M1193.1 1344.6L1228.9 1344.6L1211 1375.6Z"/><path d="M1190.1 1345.5L1225.9 1345.5L1208 1376.5Z"/><path d="M1187.1 1347.4L1222.9 1347.4L1205 1378.4Z"/><path d="M1184.1 1349.3L1219.9 1349.3L1202 1380.3Z"/><path d="M1181.1 1350.1L1216.9 1350.1L1199 1381.1Z"/><path d="M1178.1 1352.4L1213.9 1352.4L1196 1383.4Z"/><path d="M1175.1 1352.9L1210.9 1352.9L1193 1383.9Z"/><path d="M1172.1 1355.2L1207.9 1355.2L1190 1386.2Z"/><path d="M1169.1 1355.6L1204.9 1355.6L1187 1386.6Z"/><path d="M1166.1 1358L1201.9 1358L1184 1389Z"/><path d="M1163.1 1358.4L1198.9 1358.4L1181 1389.4Z"/><path d="M1160.1 1360.8L1195.9 1360.8L1178 1391.8Z"/><path d="M1157.1 1361.2L1192.9 1361.2L1175 1392.2Z"/><path d="M1154.1 1363.7L1189.9 1363.7L1172 1394.7Z"/><path d="M1151.1 1364.1L1186.9 1364.1L1169 1395.1Z"/><path d="M1148.1 1366.5L1183.9 1366.5L1166 1397.5Z"/><path d="M1145.1 1367.5L1180.9 1367.5L1163 1398.5Z"/><path d="M1142.1 1369.3L1177.9 1369.3L1160 1400.3Z"/><path d="M1139.1 1370.9L1174.9 1370.9L1157 1401.9Z"/><path d="M1136.1 1372.1L1171.9 1372.1L1154 1403.1Z"/><path d="M1133.1 1374.2L1168.9 1374.2L1151 1405.2Z"/><path d="M1130.1 1374.9L1165.9 1374.9L1148 1405.9Z"/><path d="M1127.1 1377.4L1162.9 1377.4L1145 1408.4Z"/><path d="M1124.1 1377.7L1159.9 1377.7L1142 1408.7Z"/><path d="M1121.1 1380.7L1156.9 1380.7L1139 1411.7Z"/><path d="M1118.1 1380.4L1153.9 1380.4L1136 1411.4Z"/><path d="M1115.1 1384L1150.9 1384L1133 1415Z"/><path d="M1101.9 1390.9L1137.7 1390.9L1119.8 1421.9Z"/><path d="M1089.7 1395.5L1125.5 1395.5L1107.6 1426.5Z"/><path d="M1077.5 1400L1113.3 1400L1095.4 1431Z"/><path d="M1065.3 1404.5L1101.1 1404.5L1083.2 1435.5Z"/><path d="M1053.1 1409L1088.9 1409L1071 1440Z"/><path d="M1040.9 1412.3L1076.7 1412.3L1058.8 1443.3Z"/><path d="M1028.7 1415.6L1064.5 1415.6L1046.6 1446.6Z"/><path d="M1016.5 1418.9L1052.3 1418.9L1034.4 1449.9Z"/><path d="M1004.3 1422.2L1040.1 1422.2L1022.2 1453.2Z"/><path d="M992.1 1424.6L1027.9 1424.6L1010 1455.6Z"/><path d="M972.7 1427.6L1008.5 1427.6L990.6 1458.6Z"/><path d="M960.5 1429.1L996.3 1429.1L978.4 1460.1Z"/><path d="M948.3 1430.6L984.1 1430.6L966.2 1461.6Z"/><path d="M936.1 1432L971.9 1432L954 1463Z"/><path d="M923.9 1433.6L959.7 1433.6L941.8 1464.6Z"/><path d="M911.7 1435.4L947.5 1435.4L929.6 1466.4Z"/><path d="M899.5 1437.1L935.3 1437.1L917.4 1468.1Z"/><path d="M887.3 1438.8L923.1 1438.8L905.2 1469.8Z"/><path d="M875.1 1440.1L910.9 1440.1L893 1471.1Z"/><path d="M862.9 1441.2L898.7 1441.2L880.8 1472.2Z"/><path d="M850.7 1442.3L886.5 1442.3L868.6 1473.3Z"/><path d="M838.5 1443.4L874.3 1443.4L856.4 1474.4Z"/><path d="M826.3 1444.2L862.1 1444.2L844.2 1475.2Z"/><path d="M814.1 1444.5L849.9 1444.5L832 1475.5Z"/><path d="M801.9 1444.9L837.7 1444.9L819.8 1475.9Z"/><path d="M789.7 1445.3L825.5 1445.3L807.6 1476.3Z"/><path d="M777.5 1445.7L813.3 1445.7L795.4 1476.7Z"/><path d="M765.3 1446.1L801.1 1446.1L783.2 1477.1Z"/><path d="M753.1 1446.5L788.9 1446.5L771 1477.5Z"/><path d="M740.9 1446.9L776.7 1446.9L758.8 1477.9Z"/><path d="M728.7 1447.3L764.5 1447.3L746.6 1478.3Z"/><path d="M716.5 1447.5L752.3 1447.5L734.4 1478.5Z"/><path d="M704.3 1447.4L740.1 1447.4L722.2 1478.4Z"/><path d="M692.1 1447.3L727.9 1447.3L710 1478.3Z"/><path d="M679.9 1447.3L715.7 1447.3L697.8 1478.3Z"/><path d="M667.7 1447.2L703.5 1447.2L685.6 1478.2Z"/><path d="M655.5 1447.2L691.3 1447.2L673.4 1478.2Z"/><path d="M643.3 1447.1L679.1 1447.1L661.2 1478.1Z"/><path d="M631.1 1447L666.9 1447L649 1478Z"/><path d="M618.9 1446.8L654.7 1446.8L636.8 1477.8Z"/><path d="M606.7 1446.2L642.5 1446.2L624.6 1477.2Z"/><path d="M594.5 1445.5L630.3 1445.5L612.4 1476.5Z"/><path d="M582.3 1444.8L618.1 1444.8L600.2 1475.8Z"/><path d="M570.1 1444.1L605.9 1444.1L588 1475.1Z"/><path d="M557.9 1443.5L593.7 1443.5L575.8 1474.5Z"/><path d="M545.7 1442.8L581.5 1442.8L563.6 1473.8Z"/><path d="M533.5 1442.1L569.3 1442.1L551.4 1473.1Z"/><path d="M521.3 1441.3L557.1 1441.3L539.2 1472.3Z"/><path d="M509.1 1439L544.9 1439L527 1470Z"/><path d="M496.9 1436.7L532.7 1436.7L514.8 1467.7Z"/><path d="M484.7 1434.4L520.5 1434.4L502.6 1465.4Z"/><path d="M472.5 1432.1L508.3 1432.1L490.4 1463.1Z"/><path d="M460.3 1429.8L496.1 1429.8L478.2 1460.8Z"/><path d="M448.1 1427.4L483.9 1427.4L466 1458.4Z"/><path d="M435.9 1425.1L471.7 1425.1L453.8 1456.1Z"/><path d="M423.7 1422.8L459.5 1422.8L441.6 1453.8Z"/><path d="M411.5 1421L447.3 1421L429.4 1452Z"/><path d="M399.3 1419.2L435.1 1419.2L417.2 1450.2Z"/><path d="M387.1 1417.5L422.9 1417.5L405 1448.5Z"/><path d="M374.9 1413.4L410.7 1413.4L392.8 1444.4Z"/><path d="M362.7 1408.7L398.5 1408.7L380.6 1439.7Z"/><path d="M350.5 1403.7L386.3 1403.7L368.4 1434.7Z"/><path d="M338.3 1397.1L374.1 1397.1L356.2 1428.1Z"/><path d="M326.1 1390.5L361.9 1390.5L344 1421.5Z"/><path d="M313.9 1384.4L349.7 1384.4L331.8 1415.4Z"/><path d="M301.7 1377.8L337.5 1377.8L319.6 1408.8Z"/><path d="M289.5 1366.9L325.3 1366.9L307.4 1397.9Z"/><path d="M277.3 1356.3L313.1 1356.3L295.2 1387.3Z"/><path d="M265.1 1352.5L300.9 1352.5L283 1383.5Z"/><path d="M252.9 1349.4L288.7 1349.4L270.8 1380.4Z"/><path d="M240.7 1345.9L276.5 1345.9L258.6 1376.9Z"/><path d="M228.5 1340L264.3 1340L246.4 1371Z"/><path d="M216.3 1330.3L252.1 1330.3L234.2 1361.3Z"/><path d="M204.1 1326.5L239.9 1326.5L222 1357.5Z"/>
</g>
<path d="M222.4 1392.5 231.8 1393.7 241.1 1397.2 250.5 1400.9 259.8 1405.7 269.2 1410.7 278.6 1415.1 287.9 1418.2 297.3 1420.1 306.6 1423.4 316 1426.6 325.4 1429.1 334.7 1430.2 344.1 1432.3 353.4 1434.7 362.8 1436.9 372.2 1438.2 381.5 1439.6 390.9 1441.1 400.2 1442.4 409.6 1443.3 419 1443.8 428.3 1444.5 437.7 1445.5 447 1446.4 456.4 1447.7 465.8 1449.1 475.1 1450.5 484.5 1451.8 493.8 1453.2 503.2 1454.6 512.6 1456 521.9 1457.3 531.3 1458.7 540.6 1460.1 550 1460.9 559.4 1461.6 568.7 1462.4 578.1 1463.2 587.4 1464 596.8 1464.8 606.2 1465.6 615.5 1466.4 624.9 1467.2 634.2 1468 643.6 1468.7 653 1469.2 662.3 1469.7 671.7 1470.2 681 1470.8 690.4 1471.3 699.8 1471.8 709.1 1472.3 718.5 1472.8 727.8 1473.3 737.2 1473.8 746.6 1474 755.9 1474 765.3 1474 774.6 1474 784 1474 793.4 1474 802.7 1474 812.1 1474 821.4 1474 830.8 1474 840.2 1474 849.5 1474 858.9 1474 868.2 1474 877.6 1474 887 1474 896.3 1474 905.7 1474 915 1474 924.4 1474 933.8 1474 943.1 1474 952.5 1474 961.8 1474 971.2 1474 980.6 1474 989.9 1474 999.3 1474 1009.4 1472.8 1018.8 1472.5 1028.1 1470.5 1037.5 1471 1046.8 1468.1 1056.2 1469.1 1065.6 1464.7 1074.9 1466.5 1084.3 1461 1093.6 1463.9 1103 1457.5 1112.4 1461 1121.7 1454.1 1131.1 1458 1140.4 1450.7 1149.8 1455 1159.2 1446.7 1168.5 1450.6 1177.9 1442.1 1187.2 1446.1 1196.6 1437.5 1206 1441.2 1215.3 1432.2 1224.7 1435.6 1234 1426.7 1243.4 1430 1252.8 1421.1 1262.1 1424.1 1271.5 1415.3 1280.8 1418.1 1290.2 1409.5 1299.6 1412.1 1308.9 1400 1318.3 1397.4 1327.6 1386.5 1337 1382.4 1366.8 1365 1392.8 1346 1419.9 1332.5 1445.6 1318.3 1472 1296.9 1498.3 1268.4 1512.6 1242.7 1524 1217 1548.8 1136 1575.8 1028.4 1601.8 889.3 1627.6 672.2 1654 444.5 1679.8 525 1706.1 866.7 1733.1 1107.7 1758.5 1268.3 1784.1 1369.4 1810.6 1414.3 1836.3 1431.8 1862.3 1440.5 1887.7 1443.8 1914.6 1446 1941.7 1450.4 1968 1453.7 1994 1457" fill="none" stroke="#00ffff" stroke-width="4.7" stroke-linejoin="round"/>
<g fill="#fff" stroke="#00ffff" stroke-width="6" stroke-linejoin="bevel">
<path d="M1994 1438.2L2012.8 1457L1994 1475.8L1975.2 1457Z"/><path d="M1968 1434.9L1986.8 1453.7L1968 1472.5L1949.2 1453.7Z"/><path d="M1941.7 1431.6L1960.5 1450.4L1941.7 1469.2L1922.9 1450.4Z"/><path d="M1914.6 1427.2L1933.4 1446L1914.6 1464.8L1895.8 1446Z"/><path d="M1887.7 1425L1906.5 1443.8L1887.7 1462.6L1868.9 1443.8Z"/><path d="M1862.3 1421.7L1881.1 1440.5L1862.3 1459.3L1843.5 1440.5Z"/><path d="M1836.3 1413L1855.1 1431.8L1836.3 1450.6L1817.5 1431.8Z"/><path d="M1810.6 1395.5L1829.4 1414.3L1810.6 1433.1L1791.8 1414.3Z"/><path d="M1784.1 1350.6L1802.9 1369.4L1784.1 1388.2L1765.3 1369.4Z"/><path d="M1758.5 1249.5L1777.3 1268.3L1758.5 1287.1L1739.7 1268.3Z"/><path d="M1733.1 1088.9L1751.9 1107.7L1733.1 1126.5L1714.3 1107.7Z"/><path d="M1706.1 847.9L1724.9 866.7L1706.1 885.5L1687.3 866.7Z"/><path d="M1679.8 506.2L1698.6 525L1679.8 543.8L1661 525Z"/><path d="M1654 425.7L1672.8 444.5L1654 463.3L1635.2 444.5Z"/><path d="M1627.6 653.4L1646.4 672.2L1627.6 691L1608.8 672.2Z"/><path d="M1601.8 870.5L1620.6 889.3L1601.8 908.1L1583 889.3Z"/><path d="M1575.8 1009.6L1594.6 1028.4L1575.8 1047.2L1557 1028.4Z"/><path d="M1548.8 1117.2L1567.6 1136L1548.8 1154.8L1530 1136Z"/><path d="M1524 1198.2L1542.8 1217L1524 1235.8L1505.2 1217Z"/><path d="M1512.6 1223.9L1531.4 1242.7L1512.6 1261.5L1493.8 1242.7Z"/><path d="M1498.3 1249.6L1517.1 1268.4L1498.3 1287.2L1479.5 1268.4Z"/><path d="M1472 1278.1L1490.8 1296.9L1472 1315.7L1453.2 1296.9Z"/><path d="M1445.6 1299.5L1464.4 1318.3L1445.6 1337.1L1426.8 1318.3Z"/><path d="M1419.9 1313.7L1438.7 1332.5L1419.9 1351.3L1401.1 1332.5Z"/><path d="M1392.8 1327.2L1411.6 1346L1392.8 1364.8L1374 1346Z"/><path d="M1366.8 1346.2L1385.6 1365L1366.8 1383.8L1348 1365Z"/><path d="M1337 1363.6L1355.8 1382.4L1337 1401.2L1318.2 1382.4Z"/><path d="M1327.6 1367.7L1346.4 1386.5L1327.6 1405.3L1308.8 1386.5Z"/><path d="M1318.3 1378.6L1337.1 1397.4L1318.3 1416.2L1299.5 1397.4Z"/><path d="M1308.9 1381.2L1327.7 1400L1308.9 1418.8L1290.1 1400Z"/><path d="M1299.6 1393.3L1318.4 1412.1L1299.6 1430.9L1280.8 1412.1Z"/><path d="M1290.2 1390.7L1309 1409.5L1290.2 1428.3L1271.4 1409.5Z"/><path d="M1280.8 1399.3L1299.6 1418.1L1280.8 1436.9L1262 1418.1Z"/><path d="M1271.5 1396.5L1290.3 1415.3L1271.5 1434.1L1252.7 1415.3Z"/><path d="M1262.1 1405.3L1280.9 1424.1L1262.1 1442.9L1243.3 1424.1Z"/><path d="M1252.8 1402.3L1271.6 1421.1L1252.8 1439.9L1234 1421.1Z"/><path d="M1243.4 1411.2L1262.2 1430L1243.4 1448.8L1224.6 1430Z"/><path d="M1234 1407.9L1252.8 1426.7L1234 1445.5L1215.2 1426.7Z"/><path d="M1224.7 1416.8L1243.5 1435.6L1224.7 1454.4L1205.9 1435.6Z"/><path d="M1215.3 1413.4L1234.1 1432.2L1215.3 1451L1196.5 1432.2Z"/><path d="M1206 1422.4L1224.8 1441.2L1206 1460L1187.2 1441.2Z"/><path d="M1196.6 1418.7L1215.4 1437.5L1196.6 1456.3L1177.8 1437.5Z"/><path d="M1187.2 1427.3L1206 1446.1L1187.2 1464.9L1168.4 1446.1Z"/><path d="M1177.9 1423.3L1196.7 1442.1L1177.9 1460.9L1159.1 1442.1Z"/><path d="M1168.5 1431.8L1187.3 1450.6L1168.5 1469.4L1149.7 1450.6Z"/><path d="M1159.2 1427.9L1178 1446.7L1159.2 1465.5L1140.4 1446.7Z"/><path d="M1149.8 1436.2L1168.6 1455L1149.8 1473.8L1131 1455Z"/><path d="M1140.4 1431.9L1159.2 1450.7L1140.4 1469.5L1121.6 1450.7Z"/><path d="M1131.1 1439.2L1149.9 1458L1131.1 1476.8L1112.3 1458Z"/><path d="M1121.7 1435.3L1140.5 1454.1L1121.7 1472.9L1102.9 1454.1Z"/><path d="M1112.4 1442.2L1131.2 1461L1112.4 1479.8L1093.6 1461Z"/><path d="M1103 1438.7L1121.8 1457.5L1103 1476.3L1084.2 1457.5Z"/><path d="M1093.6 1445.1L1112.4 1463.9L1093.6 1482.7L1074.8 1463.9Z"/><path d="M1084.3 1442.2L1103.1 1461L1084.3 1479.8L1065.5 1461Z"/><path d="M1074.9 1447.7L1093.7 1466.5L1074.9 1485.3L1056.1 1466.5Z"/><path d="M1065.6 1445.9L1084.4 1464.7L1065.6 1483.5L1046.8 1464.7Z"/><path d="M1056.2 1450.3L1075 1469.1L1056.2 1487.9L1037.4 1469.1Z"/><path d="M1046.8 1449.3L1065.6 1468.1L1046.8 1486.9L1028 1468.1Z"/><path d="M1037.5 1452.2L1056.3 1471L1037.5 1489.8L1018.7 1471Z"/><path d="M1028.1 1451.7L1046.9 1470.5L1028.1 1489.3L1009.3 1470.5Z"/><path d="M1018.8 1453.7L1037.6 1472.5L1018.8 1491.3L1000 1472.5Z"/><path d="M1009.4 1454L1028.2 1472.8L1009.4 1491.6L990.6 1472.8Z"/><path d="M999.3 1455.2L1018.1 1474L999.3 1492.8L980.5 1474Z"/><path d="M989.9 1455.2L1008.7 1474L989.9 1492.8L971.1 1474Z"/><path d="M980.6 1455.2L999.4 1474L980.6 1492.8L961.8 1474Z"/><path d="M971.2 1455.2L990 1474L971.2 1492.8L952.4 1474Z"/><path d="M961.8 1455.2L980.6 1474L961.8 1492.8L943 1474Z"/><path d="M952.5 1455.2L971.3 1474L952.5 1492.8L933.7 1474Z"/><path d="M943.1 1455.2L961.9 1474L943.1 1492.8L924.3 1474Z"/><path d="M933.8 1455.2L952.6 1474L933.8 1492.8L915 1474Z"/><path d="M924.4 1455.2L943.2 1474L924.4 1492.8L905.6 1474Z"/><path d="M915 1455.2L933.8 1474L915 1492.8L896.2 1474Z"/><path d="M905.7 1455.2L924.5 1474L905.7 1492.8L886.9 1474Z"/><path d="M896.3 1455.2L915.1 1474L896.3 1492.8L877.5 1474Z"/><path d="M887 1455.2L905.8 1474L887 1492.8L868.2 1474Z"/><path d="M877.6 1455.2L896.4 1474L877.6 1492.8L858.8 1474Z"/><path d="M868.2 1455.2L887 1474L868.2 1492.8L849.4 1474Z"/><path d="M858.9 1455.2L877.7 1474L858.9 1492.8L840.1 1474Z"/><path d="M849.5 1455.2L868.3 1474L849.5 1492.8L830.7 1474Z"/><path d="M840.2 1455.2L859 1474L840.2 1492.8L821.4 1474Z"/><path d="M830.8 1455.2L849.6 1474L830.8 1492.8L812 1474Z"/><path d="M821.4 1455.2L840.2 1474L821.4 1492.8L802.6 1474Z"/><path d="M812.1 1455.2L830.9 1474L812.1 1492.8L793.3 1474Z"/><path d="M802.7 1455.2L821.5 1474L802.7 1492.8L783.9 1474Z"/><path d="M793.4 1455.2L812.2 1474L793.4 1492.8L774.6 1474Z"/><path d="M784 1455.2L802.8 1474L784 1492.8L765.2 1474Z"/><path d="M774.6 1455.2L793.4 1474L774.6 1492.8L755.8 1474Z"/><path d="M765.3 1455.2L784.1 1474L765.3 1492.8L746.5 1474Z"/><path d="M755.9 1455.2L774.7 1474L755.9 1492.8L737.1 1474Z"/><path d="M746.6 1455.2L765.4 1474L746.6 1492.8L727.8 1474Z"/><path d="M737.2 1455L756 1473.8L737.2 1492.6L718.4 1473.8Z"/><path d="M727.8 1454.5L746.6 1473.3L727.8 1492.1L709 1473.3Z"/><path d="M718.5 1454L737.3 1472.8L718.5 1491.6L699.7 1472.8Z"/><path d="M709.1 1453.5L727.9 1472.3L709.1 1491.1L690.3 1472.3Z"/><path d="M699.8 1453L718.6 1471.8L699.8 1490.6L681 1471.8Z"/><path d="M690.4 1452.5L709.2 1471.3L690.4 1490.1L671.6 1471.3Z"/><path d="M681 1452L699.8 1470.8L681 1489.6L662.2 1470.8Z"/><path d="M671.7 1451.4L690.5 1470.2L671.7 1489L652.9 1470.2Z"/><path d="M662.3 1450.9L681.1 1469.7L662.3 1488.5L643.5 1469.7Z"/><path d="M653 1450.4L671.8 1469.2L653 1488L634.2 1469.2Z"/><path d="M643.6 1449.9L662.4 1468.7L643.6 1487.5L624.8 1468.7Z"/><path d="M634.2 1449.2L653 1468L634.2 1486.8L615.4 1468Z"/><path d="M624.9 1448.4L643.7 1467.2L624.9 1486L606.1 1467.2Z"/><path d="M615.5 1447.6L634.3 1466.4L615.5 1485.2L596.7 1466.4Z"/><path d="M606.2 1446.8L625 1465.6L606.2 1484.4L587.4 1465.6Z"/><path d="M596.8 1446L615.6 1464.8L596.8 1483.6L578 1464.8Z"/><path d="M587.4 1445.2L606.2 1464L587.4 1482.8L568.6 1464Z"/><path d="M578.1 1444.4L596.9 1463.2L578.1 1482L559.3 1463.2Z"/><path d="M568.7 1443.6L587.5 1462.4L568.7 1481.2L549.9 1462.4Z"/><path d="M559.4 1442.8L578.2 1461.6L559.4 1480.4L540.6 1461.6Z"/><path d="M550 1442.1L568.8 1460.9L550 1479.7L531.2 1460.9Z"/><path d="M540.6 1441.3L559.4 1460.1L540.6 1478.9L521.8 1460.1Z"/><path d="M531.3 1439.9L550.1 1458.7L531.3 1477.5L512.5 1458.7Z"/><path d="M521.9 1438.5L540.7 1457.3L521.9 1476.1L503.1 1457.3Z"/><path d="M512.6 1437.2L531.4 1456L512.6 1474.8L493.8 1456Z"/><path d="M503.2 1435.8L522 1454.6L503.2 1473.4L484.4 1454.6Z"/><path d="M493.8 1434.4L512.6 1453.2L493.8 1472L475 1453.2Z"/><path d="M484.5 1433L503.3 1451.8L484.5 1470.6L465.7 1451.8Z"/><path d="M475.1 1431.7L493.9 1450.5L475.1 1469.3L456.3 1450.5Z"/><path d="M465.8 1430.3L484.6 1449.1L465.8 1467.9L447 1449.1Z"/><path d="M456.4 1428.9L475.2 1447.7L456.4 1466.5L437.6 1447.7Z"/><path d="M447 1427.6L465.8 1446.4L447 1465.2L428.2 1446.4Z"/><path d="M437.7 1426.7L456.5 1445.5L437.7 1464.3L418.9 1445.5Z"/><path d="M428.3 1425.7L447.1 1444.5L428.3 1463.3L409.5 1444.5Z"/><path d="M419 1425L437.8 1443.8L419 1462.6L400.2 1443.8Z"/><path d="M409.6 1424.5L428.4 1443.3L409.6 1462.1L390.8 1443.3Z"/><path d="M400.2 1423.6L419 1442.4L400.2 1461.2L381.4 1442.4Z"/><path d="M390.9 1422.3L409.7 1441.1L390.9 1459.9L372.1 1441.1Z"/><path d="M381.5 1420.8L400.3 1439.6L381.5 1458.4L362.7 1439.6Z"/><path d="M372.2 1419.4L391 1438.2L372.2 1457L353.4 1438.2Z"/><path d="M362.8 1418.1L381.6 1436.9L362.8 1455.7L344 1436.9Z"/><path d="M353.4 1415.9L372.2 1434.7L353.4 1453.5L334.6 1434.7Z"/><path d="M344.1 1413.5L362.9 1432.3L344.1 1451.1L325.3 1432.3Z"/><path d="M334.7 1411.4L353.5 1430.2L334.7 1449L315.9 1430.2Z"/><path d="M325.4 1410.3L344.2 1429.1L325.4 1447.9L306.6 1429.1Z"/><path d="M316 1407.8L334.8 1426.6L316 1445.4L297.2 1426.6Z"/><path d="M306.6 1404.6L325.4 1423.4L306.6 1442.2L287.8 1423.4Z"/><path d="M297.3 1401.3L316.1 1420.1L297.3 1438.9L278.5 1420.1Z"/><path d="M287.9 1399.4L306.7 1418.2L287.9 1437L269.1 1418.2Z"/><path d="M278.6 1396.3L297.4 1415.1L278.6 1433.9L259.8 1415.1Z"/><path d="M269.2 1391.9L288 1410.7L269.2 1429.5L250.4 1410.7Z"/><path d="M259.8 1386.9L278.6 1405.7L259.8 1424.5L241 1405.7Z"/><path d="M250.5 1382.1L269.3 1400.9L250.5 1419.7L231.7 1400.9Z"/><path d="M241.1 1378.4L259.9 1397.2L241.1 1416L222.3 1397.2Z"/><path d="M231.8 1374.9L250.6 1393.7L231.8 1412.5L213 1393.7Z"/><path d="M222.4 1373.7L241.2 1392.5L222.4 1411.3L203.6 1392.5Z"/>
</g>
</g>
<text x="161.5" y="1507.5" font-size="82" text-anchor="end" transform="translate(161.5 0) scale(0.96 1) translate(-161.5 0)">0</text>
<text x="161.5" y="1229.4" font-size="82" text-anchor="end" transform="translate(161.5 0) scale(0.96 1) translate(-161.5 0)">1</text>
<text x="161.5" y="951.3" font-size="82" text-anchor="end" transform="translate(161.5 0) scale(0.96 1) translate(-161.5 0)">2</text>
<text x="161.5" y="673.3" font-size="82" text-anchor="end" transform="translate(161.5 0) scale(0.96 1) translate(-161.5 0)">3</text>
<text x="161.5" y="395.2" font-size="82" text-anchor="end" transform="translate(161.5 0) scale(0.96 1) translate(-161.5 0)">4</text>
<text x="161.5" y="117.1" font-size="82" text-anchor="end" transform="translate(161.5 0) scale(0.96 1) translate(-161.5 0)">5</text>
<text x="324.3" y="1590" font-size="82" text-anchor="middle" transform="translate(324.3 0) scale(0.935 1) translate(-324.3 0)">10</text>
<text x="709.2" y="1590" font-size="82" text-anchor="middle" transform="translate(709.2 0) scale(0.935 1) translate(-709.2 0)">100</text>
<text x="1094" y="1590" font-size="82" text-anchor="middle" transform="translate(1094 0) scale(0.935 1) translate(-1094 0)">1000</text>
<text x="1478.8" y="1590" font-size="82" text-anchor="middle" transform="translate(1478.8 0) scale(0.935 1) translate(-1478.8 0)">10000</text>
<text x="1863.7" y="1590" font-size="82" text-anchor="middle" transform="translate(1863.7 0) scale(0.935 1) translate(-1863.7 0)">100000</text>
<text x="674" y="1724" font-size="87" textLength="839" lengthAdjust="spacingAndGlyphs">Pore Size Diameter (nm)</text>
<text transform="translate(89 1345.8) rotate(-90) scale(0.9847 1)" font-size="87">Log Differential Intrusion (cm<tspan font-size="58" dy="-38">3</tspan><tspan dy="38">/g)</tspan></text>
<rect x="316" y="116" width="724" height="537" fill="#000"/>
<rect x="296.5" y="96.5" width="723" height="536" fill="#fff" stroke="#000" stroke-width="3"/>
<path d="M327.5 144.5H488.5" stroke="#000" stroke-width="5" stroke-linecap="round"/>
<g fill="#fff" stroke="#000" stroke-width="5.4"><circle cx="407.5" cy="144.5" r="14.6"/></g>
<text x="507" y="170" font-size="78" transform="translate(507 0) scale(0.93 1) translate(-507 0)">CW<tspan dy="5">_</tspan><tspan dy="-5">850</tspan></text>
<path d="M327.5 233.7H488.5" stroke="#f00" stroke-width="5" stroke-linecap="round"/>
<g fill="#fff" stroke="#f00" stroke-width="6" stroke-linejoin="round"><rect x="394.7" y="220.9" width="25.6" height="25.6"/></g>
<text x="507" y="259.2" font-size="78" transform="translate(507 0) scale(0.93 1) translate(-507 0)">CW<tspan dy="5">_</tspan><tspan dy="-5">750</tspan><tspan dy="5">_</tspan><tspan dy="-5">D</tspan></text>
<path d="M327.5 322.9H488.5" stroke="#0f0" stroke-width="5" stroke-linecap="round"/>
<g fill="#fff" stroke="#0f0" stroke-width="6" stroke-linejoin="round"><path d="M407.5 302.2L425.4 333.2L389.6 333.2Z"/></g>
<text x="507" y="348.4" font-size="78" transform="translate(507 0) scale(0.93 1) translate(-507 0)">TAW<tspan dy="5">_</tspan><tspan dy="-5">850</tspan><tspan dy="5">_</tspan><tspan dy="-5">1.5</tspan></text>
<path d="M327.5 412.1H488.5" stroke="#00f" stroke-width="5" stroke-linecap="round"/>
<g fill="#fff" stroke="#00f" stroke-width="6" stroke-linejoin="round"><path d="M389.6 401.8L425.4 401.8L407.5 432.8Z"/></g>
<text x="507" y="437.6" font-size="78" transform="translate(507 0) scale(0.93 1) translate(-507 0)">CAS<tspan dy="5">_</tspan><tspan dy="-5">750</tspan><tspan dy="5">_</tspan><tspan dy="-5">K</tspan><tspan dy="5">_</tspan><tspan dy="-5">1:2</tspan></text>
<path d="M327.5 501.3H488.5" stroke="#0ff" stroke-width="5" stroke-linecap="round"/>
<g fill="#fff" stroke="#0ff" stroke-width="6" stroke-linejoin="bevel"><path d="M407.5 482.5L426.3 501.3L407.5 520.1L388.7 501.3Z"/></g>
<text x="507" y="526.8" font-size="78" transform="translate(507 0) scale(0.93 1) translate(-507 0)">CAS<tspan dy="5">_</tspan><tspan dy="-5">800</tspan><tspan dy="5">_</tspan><tspan dy="-5">P</tspan><tspan dy="5">_</tspan><tspan dy="-5">1:2</tspan></text>
</svg></body></html>
